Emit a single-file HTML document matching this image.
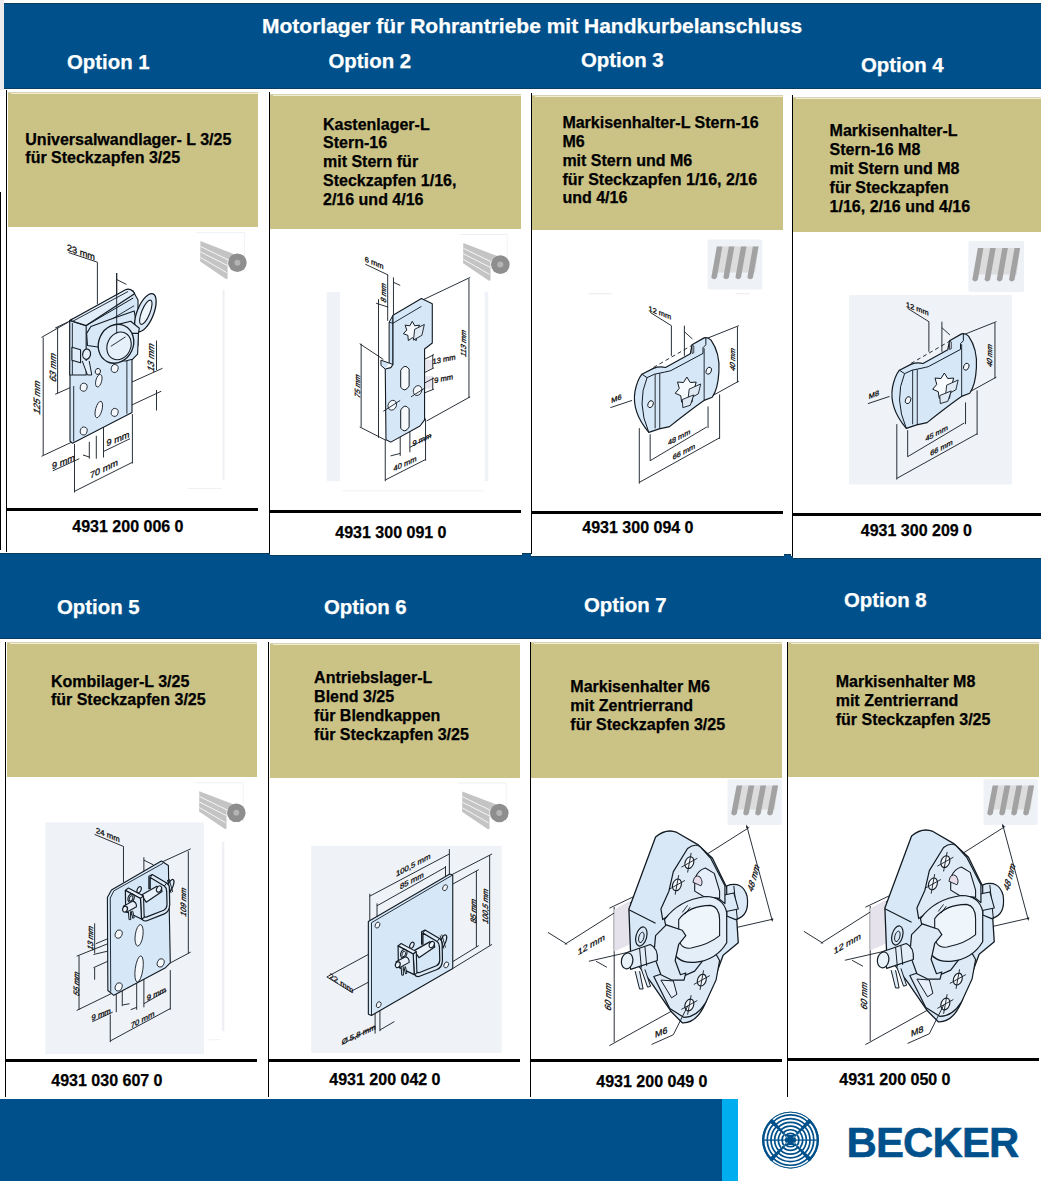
<!DOCTYPE html>
<html><head><meta charset="utf-8"><style>
html,body{margin:0;padding:0;}
body{width:1041px;height:1181px;position:relative;overflow:hidden;background:#fff;font-family:"Liberation Sans",sans-serif;}
body>div{position:absolute;}
.t{font-weight:bold;white-space:nowrap;-webkit-text-stroke:0.25px currentColor;}
</style></head><body>
<div style="left:0px;top:0px;width:4px;height:90px;background:#ebebed;"></div>
<div style="left:4px;top:3px;width:1037px;height:85.5px;background:#00518b;"></div>
<div style="left:4px;top:3px;width:1037px;height:1px;background:#0a3c5e;"></div>
<div style="left:4px;top:87.5px;width:1037px;height:1.0px;background:#0c3d60;"></div>
<div class="t" style="left:262.0px;top:13.72px;font-size:21px;line-height:24px;color:#fff;">Motorlager für Rohrantriebe mit Handkurbelanschluss</div>
<div class="t" style="left:67.0px;top:50.53px;font-size:20.4px;line-height:22px;color:#fff;">Option 1</div>
<div class="t" style="left:328.5px;top:49.83px;font-size:20.4px;line-height:22px;color:#fff;">Option 2</div>
<div class="t" style="left:581.0px;top:48.63px;font-size:20.4px;line-height:22px;color:#fff;">Option 3</div>
<div class="t" style="left:861.0px;top:53.63px;font-size:20.4px;line-height:22px;color:#fff;">Option 4</div>
<div style="left:7.6px;top:92px;width:250.4px;height:134.7px;background:#cbc286;"></div>
<div style="left:7.6px;top:92px;width:250.4px;height:1px;background:#d6d2b8;"></div>
<div style="left:10.6px;top:93px;width:247.4px;height:1px;background:#f3eed0;"></div>
<div style="left:270.4px;top:94px;width:250.60000000000002px;height:134.8px;background:#cbc286;"></div>
<div style="left:270.4px;top:94px;width:250.60000000000002px;height:1px;background:#d6d2b8;"></div>
<div style="left:273.4px;top:95px;width:247.60000000000002px;height:1px;background:#f3eed0;"></div>
<div style="left:532.3px;top:95px;width:250.70000000000005px;height:134.6px;background:#cbc286;"></div>
<div style="left:532.3px;top:95px;width:250.70000000000005px;height:1px;background:#d6d2b8;"></div>
<div style="left:535.3px;top:96px;width:247.70000000000005px;height:1px;background:#f3eed0;"></div>
<div style="left:793.2px;top:97px;width:247.79999999999995px;height:134.5px;background:#cbc286;"></div>
<div style="left:793.2px;top:97px;width:247.79999999999995px;height:1px;background:#d6d2b8;"></div>
<div style="left:796.2px;top:98px;width:244.79999999999995px;height:1px;background:#f3eed0;"></div>
<div style="left:0px;top:192px;width:1.3px;height:358px;background:#000;"></div>
<div style="left:6px;top:90px;width:1.2999999999999998px;height:462px;background:#000;"></div>
<div style="left:269px;top:92px;width:1.3000000000000114px;height:462px;background:#000;"></div>
<div style="left:531px;top:93px;width:1.2999999999999545px;height:460.5px;background:#000;"></div>
<div style="left:792px;top:95px;width:1.2999999999999545px;height:462px;background:#000;"></div>
<div style="left:7px;top:508px;width:251px;height:3px;background:#000;"></div>
<div style="left:270px;top:510px;width:251px;height:3px;background:#000;"></div>
<div style="left:532px;top:511px;width:251px;height:3px;background:#000;"></div>
<div style="left:793px;top:513px;width:248px;height:3px;background:#000;"></div>
<div class="t" style="left:25.3px;top:131.46px;font-size:16px;line-height:18px;color:#000;">Universalwandlager- L 3/25<br>für Steckzapfen 3/25</div>
<div class="t" style="left:323.0px;top:115.56px;font-size:16px;line-height:18.8px;color:#000;">Kastenlager-L<br>Stern-16<br>mit Stern für<br>Steckzapfen 1/16,<br>2/16 und 4/16</div>
<div class="t" style="left:562.4px;top:113.81px;font-size:16px;line-height:18.9px;color:#000;">Markisenhalter-L Stern-16<br>M6<br>mit Stern und M6<br>für Steckzapfen 1/16, 2/16<br>und 4/16</div>
<div class="t" style="left:829.6px;top:120.66px;font-size:16px;line-height:19px;color:#000;">Markisenhalter-L<br>Stern-16 M8<br>mit Stern und M8<br>für Steckzapfen<br>1/16, 2/16 und 4/16</div>
<div class="t" style="left:72.3px;top:518.16px;font-size:16px;line-height:18px;color:#000;">4931 200 006 0</div>
<div class="t" style="left:335.3px;top:523.86px;font-size:16px;line-height:18px;color:#000;">4931 300 091 0</div>
<div class="t" style="left:582.3px;top:519.26px;font-size:16px;line-height:18px;color:#000;">4931 300 094 0</div>
<div class="t" style="left:860.8px;top:522.16px;font-size:16px;line-height:18px;color:#000;">4931 300 209 0</div>
<div style="left:0px;top:553px;width:269.5px;height:85.5px;background:#00518b;"></div>
<div style="left:0px;top:553px;width:269.5px;height:1px;background:#0a3c5e;"></div>
<div style="left:269.5px;top:555.3px;width:261.5px;height:83.20000000000005px;background:#00518b;"></div>
<div style="left:269.5px;top:555.3px;width:261.5px;height:1.0px;background:#0a3c5e;"></div>
<div style="left:531px;top:556.2px;width:261.5px;height:82.29999999999995px;background:#00518b;"></div>
<div style="left:531px;top:556.2px;width:261.5px;height:1.0px;background:#0a3c5e;"></div>
<div style="left:792.5px;top:558px;width:248.5px;height:80.5px;background:#00518b;"></div>
<div style="left:792.5px;top:558px;width:248.5px;height:1px;background:#0a3c5e;"></div>
<div style="left:522px;top:553.2px;width:8.5px;height:85.29999999999995px;background:#00518b;"></div>
<div style="left:522px;top:553.2px;width:8.5px;height:1.0px;background:#0a3c5e;"></div>
<div style="left:784px;top:553.6px;width:7px;height:84.89999999999998px;background:#00518b;"></div>
<div style="left:784px;top:553.6px;width:7px;height:1.0px;background:#0a3c5e;"></div>
<div style="left:0px;top:637.6px;width:1041px;height:1.0px;background:#0c3d60;"></div>
<div class="t" style="left:57.0px;top:595.73px;font-size:20.4px;line-height:22px;color:#fff;">Option 5</div>
<div class="t" style="left:324.0px;top:595.73px;font-size:20.4px;line-height:22px;color:#fff;">Option 6</div>
<div class="t" style="left:584.0px;top:593.63px;font-size:20.4px;line-height:22px;color:#fff;">Option 7</div>
<div class="t" style="left:844.0px;top:588.63px;font-size:20.4px;line-height:22px;color:#fff;">Option 8</div>
<div style="left:6.5px;top:641.7px;width:250.5px;height:135.79999999999995px;background:#cbc286;"></div>
<div style="left:6.5px;top:641.7px;width:250.5px;height:1.0px;background:#d6d2b8;"></div>
<div style="left:9.5px;top:642.7px;width:247.5px;height:1.0px;background:#f3eed0;"></div>
<div style="left:269.5px;top:642.5px;width:250.5px;height:135.29999999999995px;background:#cbc286;"></div>
<div style="left:269.5px;top:642.5px;width:250.5px;height:1.0px;background:#d6d2b8;"></div>
<div style="left:272.5px;top:643.5px;width:247.5px;height:1.0px;background:#f3eed0;"></div>
<div style="left:531px;top:642px;width:251px;height:135.70000000000005px;background:#cbc286;"></div>
<div style="left:531px;top:642px;width:251px;height:1px;background:#d6d2b8;"></div>
<div style="left:534px;top:643px;width:248px;height:1px;background:#f3eed0;"></div>
<div style="left:788px;top:642px;width:250.5999999999999px;height:135px;background:#cbc286;"></div>
<div style="left:788px;top:642px;width:250.5999999999999px;height:1px;background:#d6d2b8;"></div>
<div style="left:791px;top:643px;width:247.5999999999999px;height:1px;background:#f3eed0;"></div>
<div style="left:5px;top:641.5px;width:1.2999999999999998px;height:455.5px;background:#000;"></div>
<div style="left:268px;top:642px;width:1.3000000000000114px;height:455px;background:#000;"></div>
<div style="left:530px;top:642px;width:1.2999999999999545px;height:455px;background:#000;"></div>
<div style="left:787px;top:642px;width:1.2999999999999545px;height:454.5px;background:#000;"></div>
<div style="left:6px;top:1059px;width:251px;height:3px;background:#000;"></div>
<div style="left:269px;top:1059px;width:251px;height:3px;background:#000;"></div>
<div style="left:531px;top:1059px;width:251px;height:3px;background:#000;"></div>
<div style="left:788px;top:1058px;width:251px;height:3px;background:#000;"></div>
<div class="t" style="left:50.9px;top:672.66px;font-size:16px;line-height:18px;color:#000;">Kombilager-L 3/25<br>für Steckzapfen 3/25</div>
<div class="t" style="left:314.1px;top:669.16px;font-size:16px;line-height:18.8px;color:#000;">Antriebslager-L<br>Blend 3/25<br>für Blendkappen<br>für Steckzapfen 3/25</div>
<div class="t" style="left:570.3px;top:678.36px;font-size:16px;line-height:18.6px;color:#000;">Markisenhalter M6<br>mit Zentrierrand<br>für Steckzapfen 3/25</div>
<div class="t" style="left:835.7px;top:672.93px;font-size:16px;line-height:18.85px;color:#000;">Markisenhalter M8<br>mit Zentrierrand<br>für Steckzapfen 3/25</div>
<div class="t" style="left:51.3px;top:1072.16px;font-size:16px;line-height:18px;color:#000;">4931 030 607 0</div>
<div class="t" style="left:329.3px;top:1071.16px;font-size:16px;line-height:18px;color:#000;">4931 200 042 0</div>
<div class="t" style="left:596.3px;top:1073.16px;font-size:16px;line-height:18px;color:#000;">4931 200 049 0</div>
<div class="t" style="left:839.3px;top:1071.16px;font-size:16px;line-height:18px;color:#000;">4931 200 050 0</div>
<div style="left:0px;top:1099px;width:722px;height:82px;background:#00518b;"></div>
<div style="left:722px;top:1099px;width:16px;height:82px;background:#00aeef;"></div>
<svg style="position:absolute;left:0;top:0" width="1041" height="1181" viewBox="0 0 1041 1181">
<defs><clipPath id="lc"><circle cx="790.5" cy="1140.1" r="28.4"/></clipPath>
<clipPath id="qTB"><polygon points="789.3,1140.1 750.5,1102.1 830.5,1102.1 791.7,1140.1 830.5,1178.1 750.5,1178.1"/></clipPath>
<clipPath id="qLR"><polygon points="789.0,1140.1 750.5,1103.1 750.5,1177.1"/><polygon points="792.0,1140.1 830.5,1103.1 830.5,1177.1"/></clipPath></defs>
<circle cx="790.5" cy="1140.1" r="28.4" fill="#00518b"/>
<g clip-path="url(#lc)"><g clip-path="url(#qTB)"><circle cx="790.5" cy="1140.1" r="4.80" fill="none" stroke="#fff" stroke-width="2.0"/><circle cx="790.5" cy="1140.1" r="8.50" fill="none" stroke="#fff" stroke-width="2.0"/><circle cx="790.5" cy="1140.1" r="12.20" fill="none" stroke="#fff" stroke-width="2.0"/><circle cx="790.5" cy="1140.1" r="15.90" fill="none" stroke="#fff" stroke-width="2.0"/><circle cx="790.5" cy="1140.1" r="19.60" fill="none" stroke="#fff" stroke-width="2.0"/><circle cx="790.5" cy="1140.1" r="23.30" fill="none" stroke="#fff" stroke-width="2.0"/><circle cx="790.5" cy="1140.1" r="27.00" fill="none" stroke="#fff" stroke-width="2.0"/></g><g clip-path="url(#qLR)"><circle cx="790.5" cy="1140.1" r="6.60" fill="none" stroke="#fff" stroke-width="2.0"/><circle cx="790.5" cy="1140.1" r="10.30" fill="none" stroke="#fff" stroke-width="2.0"/><circle cx="790.5" cy="1140.1" r="14.00" fill="none" stroke="#fff" stroke-width="2.0"/><circle cx="790.5" cy="1140.1" r="17.70" fill="none" stroke="#fff" stroke-width="2.0"/><circle cx="790.5" cy="1140.1" r="21.40" fill="none" stroke="#fff" stroke-width="2.0"/><circle cx="790.5" cy="1140.1" r="25.10" fill="none" stroke="#fff" stroke-width="2.0"/></g>
<line x1="760.5" y1="1140.1" x2="820.5" y2="1140.1" stroke="#00518b" stroke-width="1.1"/>
<polygon points="790.5,1140.1 820.9,1166.1 816.5,1170.5" fill="#00518b"/><polygon points="790.5,1140.1 764.5,1170.5 760.1,1166.1" fill="#00518b"/><polygon points="790.5,1140.1 760.1,1114.1 764.5,1109.7" fill="#00518b"/><polygon points="790.5,1140.1 816.5,1109.7 820.9,1114.1" fill="#00518b"/>
<polygon points="786.5,1135.1 794.5,1135.1 791.7,1140.1 794.5,1145.1 786.5,1145.1 789.3,1140.1" fill="#00518b"/>
</g><circle cx="790.5" cy="1140.1" r="27.9" fill="none" stroke="#00518b" stroke-width="1"/></svg>
<div class="t" style="left:846.5px;top:1121.25px;font-size:42px;line-height:44px;color:#00518b;letter-spacing:-0.9px;-webkit-text-stroke:0.5px #00518b;">BECKER</div>
<svg style="position:absolute;left:0;top:0" width="1041" height="1181" viewBox="0 0 1041 1181" font-family="Liberation Sans, sans-serif"><defs><marker id="arr" viewBox="0 0 10 10" refX="5" refY="5" markerWidth="4" markerHeight="4" orient="auto-start-reverse"><path d="M0,2 L10,5 L0,8 z" fill="#121a22"/></marker></defs><rect x="222.5" y="290.0" width="2.0" height="190.0" fill="#eef0f4" />
<rect x="188.0" y="488.0" width="34.0" height="1.0" fill="#f0f0f0" />
<rect x="196.4" y="232.2" width="48.0" height="1.0" fill="#eceff5" />
<rect x="243.9" y="232.7" width="0.8" height="40.0" fill="#eef0f5" />
<polygon points="200.4,241.1 234.4,254.2 227.6,259.7 227.6,278.7 226.0,278.9 200.2,261.4" fill="#c4c4c4" stroke="#121a22" stroke-width="0" stroke-linejoin="round" vector-effect="non-scaling-stroke" />
<line x1="200.5" y1="246.4" x2="227.9" y2="259.7" stroke="#f6f6f6" stroke-width="1.0" vector-effect="non-scaling-stroke" />
<line x1="200.5" y1="251.9" x2="227.6" y2="265.6" stroke="#f6f6f6" stroke-width="1.0" vector-effect="non-scaling-stroke" />
<line x1="200.5" y1="257.5" x2="226.6" y2="272.5" stroke="#f6f6f6" stroke-width="1.0" vector-effect="non-scaling-stroke" />
<ellipse cx="237.4" cy="262.7" rx="9.3" ry="9.3" transform="rotate(0 237.4 262.7)" fill="#8e8e8e" stroke="#121a22" stroke-width="0" vector-effect="non-scaling-stroke"/>
<ellipse cx="237.4" cy="262.7" rx="3.0" ry="3.0" transform="rotate(0 237.4 262.7)" fill="#b4b4b4" stroke="#121a22" stroke-width="0" vector-effect="non-scaling-stroke"/>
<line x1="68.5" y1="252.5" x2="97.4" y2="262.2" stroke="#121a22" stroke-width="0.9" vector-effect="non-scaling-stroke" />
<line x1="97.4" y1="262.2" x2="97.4" y2="304.4" stroke="#121a22" stroke-width="0.9" vector-effect="non-scaling-stroke" />
<line x1="116.7" y1="273.0" x2="116.7" y2="333.3" stroke="#121a22" stroke-width="0.9" vector-effect="non-scaling-stroke" />
<line x1="116.7" y1="279.5" x2="126.4" y2="284.4" stroke="#121a22" stroke-width="0.9" vector-effect="non-scaling-stroke" />
<text x="81.0" y="252.0" transform="translate(81.0 252.0) skewY(20) translate(-81.0 -252.0)" font-size="9.18" fill="#0d0d0d" stroke="#0d0d0d" stroke-width="0.3" vector-effect="non-scaling-stroke" text-anchor="middle" dominant-baseline="central" >23 mm</text>
<line x1="43.2" y1="337.4" x2="43.2" y2="455.0" stroke="#121a22" stroke-width="0.9" vector-effect="non-scaling-stroke" />
<line x1="41.5" y1="337.4" x2="68.5" y2="322.0" stroke="#121a22" stroke-width="0.9" vector-effect="non-scaling-stroke" />
<line x1="41.5" y1="456.3" x2="70.9" y2="442.5" stroke="#121a22" stroke-width="0.9" vector-effect="non-scaling-stroke" />
<text x="37.0" y="397.0" transform="translate(37.0 397.0) rotate(-90) skewX(-28) translate(-37.0 -397.0)" font-size="9.18" fill="#0d0d0d" stroke="#0d0d0d" stroke-width="0.3" vector-effect="non-scaling-stroke" text-anchor="middle" dominant-baseline="central" >125 mm</text>
<line x1="57.6" y1="327.3" x2="57.6" y2="393.6" stroke="#121a22" stroke-width="0.9" vector-effect="non-scaling-stroke" />
<line x1="55.2" y1="394.3" x2="86.6" y2="380.3" stroke="#121a22" stroke-width="0.9" vector-effect="non-scaling-stroke" />
<line x1="55.2" y1="328.0" x2="70.0" y2="321.0" stroke="#121a22" stroke-width="0.9" vector-effect="non-scaling-stroke" />
<text x="52.5" y="367.0" transform="translate(52.5 367.0) rotate(-90) skewX(-28) translate(-52.5 -367.0)" font-size="9.18" fill="#0d0d0d" stroke="#0d0d0d" stroke-width="0.3" vector-effect="non-scaling-stroke" text-anchor="middle" dominant-baseline="central" >63 mm</text>
<line x1="156.5" y1="340.5" x2="156.5" y2="370.0" stroke="#121a22" stroke-width="0.9" vector-effect="non-scaling-stroke" />
<line x1="103.5" y1="394.8" x2="162.5" y2="368.3" stroke="#121a22" stroke-width="0.9" vector-effect="non-scaling-stroke" />
<line x1="102.2" y1="418.9" x2="161.3" y2="391.2" stroke="#121a22" stroke-width="0.9" vector-effect="non-scaling-stroke" />
<line x1="156.5" y1="390.0" x2="156.5" y2="410.5" stroke="#121a22" stroke-width="0.9" vector-effect="non-scaling-stroke" />
<text x="150.5" y="357.0" transform="translate(150.5 357.0) rotate(-90) skewX(-28) translate(-150.5 -357.0)" font-size="9.18" fill="#0d0d0d" stroke="#0d0d0d" stroke-width="0.3" vector-effect="non-scaling-stroke" text-anchor="middle" dominant-baseline="central" >13 mm</text>
<line x1="103.5" y1="451.5" x2="130.0" y2="438.7" stroke="#121a22" stroke-width="0.9" vector-effect="non-scaling-stroke" />
<text x="118.0" y="438.5" transform="translate(118.0 438.5) skewY(-22) translate(-118.0 -438.5)" font-size="9.18" fill="#0d0d0d" stroke="#0d0d0d" stroke-width="0.3" vector-effect="non-scaling-stroke" text-anchor="middle" dominant-baseline="central" >9 mm</text>
<line x1="52.8" y1="470.8" x2="79.3" y2="458.7" stroke="#121a22" stroke-width="0.9" vector-effect="non-scaling-stroke" />
<text x="63.5" y="461.5" transform="translate(63.5 461.5) skewY(-22) translate(-63.5 -461.5)" font-size="9.18" fill="#0d0d0d" stroke="#0d0d0d" stroke-width="0.3" vector-effect="non-scaling-stroke" text-anchor="middle" dominant-baseline="central" >9 mm</text>
<line x1="74.5" y1="491.3" x2="132.4" y2="462.3" stroke="#121a22" stroke-width="0.9" vector-effect="non-scaling-stroke" />
<line x1="74.5" y1="444.0" x2="74.5" y2="492.5" stroke="#121a22" stroke-width="0.9" vector-effect="non-scaling-stroke" />
<line x1="132.4" y1="414.0" x2="132.4" y2="463.5" stroke="#121a22" stroke-width="0.9" vector-effect="non-scaling-stroke" />
<text x="104.0" y="468.5" transform="translate(104.0 468.5) skewY(-26) translate(-104.0 -468.5)" font-size="9.18" fill="#0d0d0d" stroke="#0d0d0d" stroke-width="0.3" vector-effect="non-scaling-stroke" text-anchor="middle" dominant-baseline="central" >70 mm</text>
<line x1="89.3" y1="441.8" x2="89.3" y2="458.7" stroke="#121a22" stroke-width="0.9" vector-effect="non-scaling-stroke" />
<line x1="96.3" y1="435.8" x2="96.3" y2="458.7" stroke="#121a22" stroke-width="0.9" vector-effect="non-scaling-stroke" />
<line x1="103.5" y1="419.0" x2="103.5" y2="457.5" stroke="#121a22" stroke-width="0.9" vector-effect="non-scaling-stroke" />
<line x1="83.0" y1="455.0" x2="89.3" y2="457.0" stroke="#121a22" stroke-width="0.9" vector-effect="non-scaling-stroke" />
<polygon points="70.0,321.0 127.6,289.5 133.0,291.0 138.0,300.0 138.0,345.0 132.0,360.6 132.0,412.4 72.5,443.3 70.0,441.0" fill="#d6e7f7" stroke="#121a22" stroke-width="1.1" stroke-linejoin="round" vector-effect="non-scaling-stroke" />
<line x1="73.7" y1="386.0" x2="73.7" y2="441.5" stroke="#121a22" stroke-width="0.9" vector-effect="non-scaling-stroke" />
<line x1="126.9" y1="360.6" x2="126.9" y2="413.8" stroke="#121a22" stroke-width="0.9" vector-effect="non-scaling-stroke" />
<ellipse cx="114.7" cy="368.5" rx="3.4" ry="4.0" transform="rotate(15 114.7 368.5)" fill="#f4f8fc" stroke="#121a22" stroke-width="0.9" vector-effect="non-scaling-stroke"/>
<ellipse cx="98.8" cy="380.7" rx="2.9" ry="6.5" transform="rotate(15 98.8 380.7)" fill="#f4f8fc" stroke="#121a22" stroke-width="0.9" vector-effect="non-scaling-stroke"/>
<ellipse cx="83.7" cy="387.2" rx="3.4" ry="4.0" transform="rotate(15 83.7 387.2)" fill="#f4f8fc" stroke="#121a22" stroke-width="0.9" vector-effect="non-scaling-stroke"/>
<ellipse cx="98.8" cy="409.5" rx="3.2" ry="8.5" transform="rotate(15 98.8 409.5)" fill="#f4f8fc" stroke="#121a22" stroke-width="0.9" vector-effect="non-scaling-stroke"/>
<ellipse cx="114.7" cy="412.4" rx="3.4" ry="4.0" transform="rotate(15 114.7 412.4)" fill="#f4f8fc" stroke="#121a22" stroke-width="0.9" vector-effect="non-scaling-stroke"/>
<ellipse cx="83.7" cy="431.0" rx="3.4" ry="4.0" transform="rotate(15 83.7 431.0)" fill="#f4f8fc" stroke="#121a22" stroke-width="0.9" vector-effect="non-scaling-stroke"/>
<g transform="translate(65.00,285.00) scale(0.08643)">
<path d="M55,410 L245,470 L245,1041 L55,1041 Z" fill="#d8e8f7" stroke="#121a22" stroke-width="1.1" stroke-linejoin="round" vector-effect="non-scaling-stroke" />
<path d="M55,410 Q60,395 90,395 L245,460" fill="none" stroke="#121a22" stroke-width="1" stroke-linejoin="round" vector-effect="non-scaling-stroke" />
<line x1="85.0" y1="440.0" x2="85.0" y2="1041.0" stroke="#121a22" stroke-width="0.9" vector-effect="non-scaling-stroke" />
<path d="M55,410 L700,55 Q745,35 790,75 L805,100 L245,470 Z" fill="#e2eefa" stroke="#121a22" stroke-width="1.2" stroke-linejoin="round" vector-effect="non-scaling-stroke" />
<line x1="80.0" y1="425.0" x2="730.0" y2="75.0" stroke="#121a22" stroke-width="0.9" vector-effect="non-scaling-stroke" />
<line x1="245.0" y1="470.0" x2="790.0" y2="150.0" stroke="#121a22" stroke-width="1" vector-effect="non-scaling-stroke" />
<line x1="300.0" y1="540.0" x2="800.0" y2="240.0" stroke="#121a22" stroke-width="0.9" vector-effect="non-scaling-stroke" />
<path d="M250,560 L300,480 L520,400 L800,300 L850,560 L840,800 L780,860 L700,880 L500,880 L420,800 L400,720 L260,700 Z" fill="#d8e8f7" stroke="#121a22" stroke-width="1.1" stroke-linejoin="round" vector-effect="non-scaling-stroke" />
<ellipse cx="930.0" cy="320.0" rx="95.0" ry="235.0" transform="rotate(22 930.0 320.0)" fill="#dbe9f7" stroke="#121a22" stroke-width="1.3" vector-effect="non-scaling-stroke"/>
<ellipse cx="935.0" cy="315.0" rx="48.0" ry="150.0" transform="rotate(22 935.0 315.0)" fill="#eef5fb" stroke="#121a22" stroke-width="1.1" vector-effect="non-scaling-stroke"/>
<polygon points="560.0,470.0 760.0,420.0 860.0,500.0 850.0,560.0 700.0,560.0 520.0,560.0" fill="#dde9f6" stroke="#121a22" stroke-width="1.1" stroke-linejoin="round" vector-effect="non-scaling-stroke" />
<ellipse cx="590.0" cy="680.0" rx="200.0" ry="230.0" transform="rotate(25 590.0 680.0)" fill="#dceaf7" stroke="#121a22" stroke-width="1.3" vector-effect="non-scaling-stroke"/>
<ellipse cx="625.0" cy="705.0" rx="135.0" ry="165.0" transform="rotate(25 625.0 705.0)" fill="#e6f0fa" stroke="#121a22" stroke-width="1.1" vector-effect="non-scaling-stroke"/>
<line x1="530.0" y1="710.0" x2="700.0" y2="600.0" stroke="#121a22" stroke-width="0.9" vector-effect="non-scaling-stroke" />
<polygon points="80.0,720.0 180.0,750.0 180.0,900.0 80.0,870.0" fill="#e2eefa" stroke="#121a22" stroke-width="1.1" stroke-linejoin="round" vector-effect="non-scaling-stroke" />
<ellipse cx="250.0" cy="800.0" rx="45.0" ry="60.0" transform="rotate(10 250.0 800.0)" fill="#e6f0fa" stroke="#121a22" stroke-width="1.2" vector-effect="non-scaling-stroke"/>
<path d="M200,880 L260,1041 L310,1041 L280,880" fill="#e2eefa" stroke="#121a22" stroke-width="1" stroke-linejoin="round" vector-effect="non-scaling-stroke" />
<ellipse cx="380.0" cy="1000.0" rx="30.0" ry="35.0" transform="rotate(20 380.0 1000.0)" fill="#f4f8fc" stroke="#121a22" stroke-width="1" vector-effect="non-scaling-stroke"/>
</g>
<line x1="116.7" y1="273.0" x2="116.7" y2="333.3" stroke="#121a22" stroke-width="0.9" vector-effect="non-scaling-stroke" />
<rect x="459.3" y="234.1" width="48.0" height="1.0" fill="#eceff5" />
<rect x="506.8" y="234.6" width="0.8" height="40.0" fill="#eef0f5" />
<polygon points="463.3,243.0 497.3,256.1 490.5,261.6 490.5,280.6 488.9,280.8 463.1,263.3" fill="#c4c4c4" stroke="#121a22" stroke-width="0" stroke-linejoin="round" vector-effect="non-scaling-stroke" />
<line x1="463.4" y1="248.3" x2="490.8" y2="261.6" stroke="#f6f6f6" stroke-width="1.0" vector-effect="non-scaling-stroke" />
<line x1="463.4" y1="253.8" x2="490.5" y2="267.5" stroke="#f6f6f6" stroke-width="1.0" vector-effect="non-scaling-stroke" />
<line x1="463.4" y1="259.4" x2="489.5" y2="274.4" stroke="#f6f6f6" stroke-width="1.0" vector-effect="non-scaling-stroke" />
<ellipse cx="500.3" cy="264.6" rx="9.3" ry="9.3" transform="rotate(0 500.3 264.6)" fill="#8e8e8e" stroke="#121a22" stroke-width="0" vector-effect="non-scaling-stroke"/>
<ellipse cx="500.3" cy="264.6" rx="3.0" ry="3.0" transform="rotate(0 500.3 264.6)" fill="#b4b4b4" stroke="#121a22" stroke-width="0" vector-effect="non-scaling-stroke"/>
<g transform="translate(270,228) scale(0.24114)">
<rect x="235.0" y="265.0" width="55.0" height="785.0" fill="#eff2f6" />
<rect x="890.0" y="265.0" width="15.0" height="785.0" fill="#eff2f6" />
<rect x="300.0" y="1088.0" width="590.0" height="4.0" fill="#f2f2f2" />
<line x1="395.0" y1="150.0" x2="490.0" y2="195.0" stroke="#121a22" stroke-width="0.9" vector-effect="non-scaling-stroke" />
<line x1="488.0" y1="195.0" x2="488.0" y2="385.0" stroke="#121a22" stroke-width="0.9" vector-effect="non-scaling-stroke" />
<line x1="512.0" y1="205.0" x2="512.0" y2="360.0" stroke="#121a22" stroke-width="0.9" vector-effect="non-scaling-stroke" />
<line x1="512.0" y1="225.0" x2="540.0" y2="238.0" stroke="#121a22" stroke-width="0.9" vector-effect="non-scaling-stroke" />
<text x="432.0" y="145.0" transform="translate(432.0 145.0) skewY(22) translate(-432.0 -145.0)" font-size="31.35" fill="#0d0d0d" stroke="#0d0d0d" stroke-width="0.3" vector-effect="non-scaling-stroke" text-anchor="middle" dominant-baseline="central" >6 mm</text>
<line x1="450.0" y1="295.0" x2="450.0" y2="870.0" stroke="#121a22" stroke-width="0.9" vector-effect="non-scaling-stroke" />
<line x1="440.0" y1="312.0" x2="490.0" y2="328.0" stroke="#121a22" stroke-width="0.9" vector-effect="non-scaling-stroke" />
<text x="470.0" y="268.0" transform="translate(470.0 268.0) rotate(-90) skewX(-28) translate(-470.0 -268.0)" font-size="31.35" fill="#0d0d0d" stroke="#0d0d0d" stroke-width="0.3" vector-effect="non-scaling-stroke" text-anchor="middle" dominant-baseline="central" >8 mm</text>
<line x1="378.0" y1="480.0" x2="378.0" y2="825.0" stroke="#121a22" stroke-width="0.9" vector-effect="non-scaling-stroke" />
<line x1="372.0" y1="480.0" x2="470.0" y2="545.0" stroke="#121a22" stroke-width="0.9" vector-effect="non-scaling-stroke" />
<line x1="372.0" y1="825.0" x2="480.0" y2="880.0" stroke="#121a22" stroke-width="0.9" vector-effect="non-scaling-stroke" />
<text x="362.0" y="655.0" transform="translate(362.0 655.0) rotate(-90) skewX(-28) translate(-362.0 -655.0)" font-size="31.35" fill="#0d0d0d" stroke="#0d0d0d" stroke-width="0.3" vector-effect="non-scaling-stroke" text-anchor="middle" dominant-baseline="central" >75 mm</text>
<line x1="825.0" y1="210.0" x2="825.0" y2="705.0" stroke="#121a22" stroke-width="0.9" vector-effect="non-scaling-stroke" />
<line x1="630.0" y1="300.0" x2="830.0" y2="205.0" stroke="#121a22" stroke-width="0.9" vector-effect="non-scaling-stroke" />
<line x1="650.0" y1="800.0" x2="830.0" y2="700.0" stroke="#121a22" stroke-width="0.9" vector-effect="non-scaling-stroke" />
<text x="805.0" y="478.0" transform="translate(805.0 478.0) rotate(-90) skewX(-28) translate(-805.0 -478.0)" font-size="31.35" fill="#0d0d0d" stroke="#0d0d0d" stroke-width="0.3" vector-effect="non-scaling-stroke" text-anchor="middle" dominant-baseline="central" >113 mm</text>
<polygon points="644.0,547.0 676.0,547.0 676.0,585.0 644.0,590.0" fill="#e9e5ec" stroke="#121a22" stroke-width="0" stroke-linejoin="round" vector-effect="non-scaling-stroke" />
<line x1="550.0" y1="590.0" x2="680.0" y2="525.0" stroke="#121a22" stroke-width="0.9" vector-effect="non-scaling-stroke" />
<line x1="550.0" y1="645.0" x2="680.0" y2="580.0" stroke="#121a22" stroke-width="0.9" vector-effect="non-scaling-stroke" />
<line x1="675.0" y1="525.0" x2="675.0" y2="580.0" stroke="#121a22" stroke-width="0.9" vector-effect="non-scaling-stroke" />
<text x="722.0" y="545.0" transform="translate(722.0 545.0) skewY(-12) translate(-722.0 -545.0)" font-size="31.35" fill="#0d0d0d" stroke="#0d0d0d" stroke-width="0.3" vector-effect="non-scaling-stroke" text-anchor="middle" dominant-baseline="central" >13 mm</text>
<polygon points="644.0,614.0 676.0,614.0 676.0,662.0 644.0,668.0" fill="#e9e5ec" stroke="#121a22" stroke-width="0" stroke-linejoin="round" vector-effect="non-scaling-stroke" />
<line x1="600.0" y1="665.0" x2="680.0" y2="622.0" stroke="#121a22" stroke-width="0.9" vector-effect="non-scaling-stroke" />
<line x1="600.0" y1="700.0" x2="680.0" y2="668.0" stroke="#121a22" stroke-width="0.9" vector-effect="non-scaling-stroke" />
<line x1="675.0" y1="620.0" x2="675.0" y2="670.0" stroke="#121a22" stroke-width="0.9" vector-effect="non-scaling-stroke" />
<text x="720.0" y="625.0" transform="translate(720.0 625.0) skewY(-12) translate(-720.0 -625.0)" font-size="31.35" fill="#0d0d0d" stroke="#0d0d0d" stroke-width="0.3" vector-effect="non-scaling-stroke" text-anchor="middle" dominant-baseline="central" >9 mm</text>
<line x1="580.0" y1="910.0" x2="670.0" y2="860.0" stroke="#121a22" stroke-width="0.9" vector-effect="non-scaling-stroke" />
<text x="630.0" y="878.0" transform="translate(630.0 878.0) skewY(-25) translate(-630.0 -878.0)" font-size="31.35" fill="#0d0d0d" stroke="#0d0d0d" stroke-width="0.3" vector-effect="non-scaling-stroke" text-anchor="middle" dominant-baseline="central" >9 mm</text>
<line x1="478.0" y1="1045.0" x2="645.0" y2="960.0" stroke="#121a22" stroke-width="0.9" vector-effect="non-scaling-stroke" />
<line x1="478.0" y1="880.0" x2="478.0" y2="1050.0" stroke="#121a22" stroke-width="0.9" vector-effect="non-scaling-stroke" />
<line x1="645.0" y1="790.0" x2="645.0" y2="965.0" stroke="#121a22" stroke-width="0.9" vector-effect="non-scaling-stroke" />
<line x1="540.0" y1="820.0" x2="540.0" y2="945.0" stroke="#121a22" stroke-width="0.9" vector-effect="non-scaling-stroke" />
<line x1="580.0" y1="840.0" x2="580.0" y2="930.0" stroke="#121a22" stroke-width="0.9" vector-effect="non-scaling-stroke" />
<line x1="500.0" y1="945.0" x2="540.0" y2="935.0" stroke="#121a22" stroke-width="0.9" vector-effect="non-scaling-stroke" />
<text x="560.0" y="978.0" transform="translate(560.0 978.0) skewY(-25) translate(-560.0 -978.0)" font-size="31.35" fill="#0d0d0d" stroke="#0d0d0d" stroke-width="0.3" vector-effect="non-scaling-stroke" text-anchor="middle" dominant-baseline="central" >40 mm</text>
<polygon points="494.0,391.0 510.0,362.0 510.0,566.0 494.0,560.0" fill="#c9def2" stroke="#121a22" stroke-width="1" stroke-linejoin="round" vector-effect="non-scaling-stroke" />
<polygon points="510.0,362.0 628.0,292.0 673.0,314.0 673.0,477.0 641.0,502.0 641.0,796.0 622.0,821.0 501.0,888.0 481.0,878.0 478.0,585.0 501.0,579.0 510.0,566.0" fill="#d6e7f7" stroke="#121a22" stroke-width="1.1" stroke-linejoin="round" vector-effect="non-scaling-stroke" />
<path d="M478,585 L460,570 L460,548 L494,560" fill="#cfe2f4" stroke="#121a22" stroke-width="1" stroke-linejoin="round" vector-effect="non-scaling-stroke" />
<line x1="494.0" y1="391.0" x2="510.0" y2="395.0" stroke="#121a22" stroke-width="0.9" vector-effect="non-scaling-stroke" />
<line x1="510.0" y1="395.0" x2="628.0" y2="325.0" stroke="#121a22" stroke-width="0.9" vector-effect="non-scaling-stroke" />
<polygon points="590.0,387.0 600.2,405.6 619.6,402.8 612.8,423.2 626.9,438.3 608.3,445.2 606.4,466.8 590.0,455.0 573.6,466.8 571.7,445.2 553.1,438.3 567.2,423.2 560.4,402.8 579.8,405.6" fill="#f6f9fc" stroke="#121a22" stroke-width="1" stroke-linejoin="round" vector-effect="non-scaling-stroke" />
<polygon points="600.0,420.0 640.0,400.0 630.0,445.0 595.0,465.0" fill="#dfe9f4" stroke="#121a22" stroke-width="0.9" stroke-linejoin="round" vector-effect="non-scaling-stroke" />
<path d="M542,590 Q559,560 577,585 L577,655 Q559,685 542,660 Z" fill="#f6f9fc" stroke="#121a22" stroke-width="1" stroke-linejoin="round" vector-effect="non-scaling-stroke" />
<ellipse cx="612.0" cy="674.0" rx="17.0" ry="21.0" transform="rotate(25 612.0 674.0)" fill="#f6f9fc" stroke="#121a22" stroke-width="0.9" vector-effect="non-scaling-stroke"/>
<ellipse cx="507.0" cy="735.0" rx="17.0" ry="21.0" transform="rotate(25 507.0 735.0)" fill="#f6f9fc" stroke="#121a22" stroke-width="0.9" vector-effect="non-scaling-stroke"/>
<path d="M542,755 Q559,725 577,750 L577,825 Q559,855 542,830 Z" fill="#f6f9fc" stroke="#121a22" stroke-width="1" stroke-linejoin="round" vector-effect="non-scaling-stroke" />
<line x1="470.0" y1="760.0" x2="540.0" y2="715.0" stroke="#121a22" stroke-width="0.9" vector-effect="non-scaling-stroke" />
<line x1="585.0" y1="700.0" x2="640.0" y2="665.0" stroke="#121a22" stroke-width="0.9" vector-effect="non-scaling-stroke" />
</g>
<rect x="707.5" y="239.6" width="54.8" height="49.9" fill="#eef1f6" rx="2"/>
<polygon points="717.9,246.6 758.5,246.6 755.2,272.5 713.0,272.5" fill="#dcdcdc" stroke="#121a22" stroke-width="0" stroke-linejoin="round" vector-effect="non-scaling-stroke" />
<path d="M716.8,246.6 L722.4,246.6 L716.9,277.5 Q714.1,281.0 711.3,277.5 Z" fill="#a2a2a2" stroke="#121a22" stroke-width="0" stroke-linejoin="round" vector-effect="non-scaling-stroke" />
<path d="M728.8,246.6 L734.4,246.6 L728.9,277.5 Q726.1,281.0 723.3,277.5 Z" fill="#a2a2a2" stroke="#121a22" stroke-width="0" stroke-linejoin="round" vector-effect="non-scaling-stroke" />
<path d="M740.9,246.6 L746.5,246.6 L741.0,277.5 Q738.2,281.0 735.4,277.5 Z" fill="#a2a2a2" stroke="#121a22" stroke-width="0" stroke-linejoin="round" vector-effect="non-scaling-stroke" />
<path d="M752.9,246.6 L758.5,246.6 L753.0,277.5 Q750.2,281.0 747.4,277.5 Z" fill="#a2a2a2" stroke="#121a22" stroke-width="0" stroke-linejoin="round" vector-effect="non-scaling-stroke" />
<g transform="translate(532,228) scale(0.24114)">
<rect x="235.0" y="270.0" width="95.0" height="5.0" fill="#eeeeee" />
<rect x="845.0" y="270.0" width="60.0" height="5.0" fill="#eeeeee" />
<line x1="490.0" y1="350.0" x2="578.0" y2="405.0" stroke="#121a22" stroke-width="0.9" vector-effect="non-scaling-stroke" />
<line x1="578.0" y1="405.0" x2="578.0" y2="530.0" stroke="#121a22" stroke-width="0.9" vector-effect="non-scaling-stroke" />
<line x1="632.0" y1="405.0" x2="632.0" y2="530.0" stroke="#121a22" stroke-width="0.9" vector-effect="non-scaling-stroke" />
<line x1="632.0" y1="430.0" x2="665.0" y2="460.0" stroke="#121a22" stroke-width="0.9" vector-effect="non-scaling-stroke" />
<text x="530.0" y="352.0" transform="translate(530.0 352.0) skewY(22) translate(-530.0 -352.0)" font-size="30.46" fill="#0d0d0d" stroke="#0d0d0d" stroke-width="0.3" vector-effect="non-scaling-stroke" text-anchor="middle" dominant-baseline="central" >12 mm</text>
<line x1="852.0" y1="410.0" x2="852.0" y2="640.0" stroke="#121a22" stroke-width="0.9" vector-effect="non-scaling-stroke" />
<line x1="720.0" y1="460.0" x2="858.0" y2="405.0" stroke="#121a22" stroke-width="0.9" vector-effect="non-scaling-stroke" />
<line x1="740.0" y1="700.0" x2="858.0" y2="635.0" stroke="#121a22" stroke-width="0.9" vector-effect="non-scaling-stroke" />
<text x="832.0" y="545.0" transform="translate(832.0 545.0) rotate(-90) skewX(-28) translate(-832.0 -545.0)" font-size="30.46" fill="#0d0d0d" stroke="#0d0d0d" stroke-width="0.3" vector-effect="non-scaling-stroke" text-anchor="middle" dominant-baseline="central" >40 mm</text>
<text x="350.0" y="708.0" transform="translate(350.0 708.0) skewY(-22) translate(-350.0 -708.0)" font-size="30.46" fill="#0d0d0d" stroke="#0d0d0d" stroke-width="0.3" vector-effect="non-scaling-stroke" text-anchor="middle" dominant-baseline="central" >M6</text>
<line x1="325.0" y1="745.0" x2="415.0" y2="715.0" stroke="#121a22" stroke-width="0.9" vector-effect="non-scaling-stroke" />
<line x1="490.0" y1="965.0" x2="725.0" y2="825.0" stroke="#121a22" stroke-width="0.9" vector-effect="non-scaling-stroke" />
<line x1="490.0" y1="855.0" x2="490.0" y2="965.0" stroke="#121a22" stroke-width="0.9" vector-effect="non-scaling-stroke" />
<line x1="730.0" y1="740.0" x2="730.0" y2="830.0" stroke="#121a22" stroke-width="0.9" vector-effect="non-scaling-stroke" />
<text x="610.0" y="868.0" transform="translate(610.0 868.0) skewY(-28) translate(-610.0 -868.0)" font-size="30.46" fill="#0d0d0d" stroke="#0d0d0d" stroke-width="0.3" vector-effect="non-scaling-stroke" text-anchor="middle" dominant-baseline="central" >48 mm</text>
<line x1="445.0" y1="1055.0" x2="778.0" y2="870.0" stroke="#121a22" stroke-width="0.9" vector-effect="non-scaling-stroke" />
<line x1="445.0" y1="830.0" x2="445.0" y2="1060.0" stroke="#121a22" stroke-width="0.9" vector-effect="non-scaling-stroke" />
<line x1="778.0" y1="690.0" x2="778.0" y2="875.0" stroke="#121a22" stroke-width="0.9" vector-effect="non-scaling-stroke" />
<text x="630.0" y="928.0" transform="translate(630.0 928.0) skewY(-28) translate(-630.0 -928.0)" font-size="30.46" fill="#0d0d0d" stroke="#0d0d0d" stroke-width="0.3" vector-effect="non-scaling-stroke" text-anchor="middle" dominant-baseline="central" >66 mm</text>
<g transform="translate(364.90,381.50) scale(0.47804)">
<path d="M190,470 L290,420 Q340,400 395,412 L610,292 L625,215 L730,155 Q760,145 790,175 Q870,290 858,450 Q850,600 800,670 L735,695 Q640,760 430,925 L340,945 L250,975 Q100,800 130,620 Q150,520 190,470 Z" fill="#d6e7f7" stroke="#121a22" stroke-width="1.2" stroke-linejoin="round" vector-effect="non-scaling-stroke" />
<path d="M190,470 L235,500 L300,470 Q400,450 440,440 L720,290 L720,240 L745,215 L745,150" fill="none" stroke="#121a22" stroke-width="1" stroke-linejoin="round" vector-effect="non-scaling-stroke" />
<path d="M235,500 Q140,720 250,975" fill="none" stroke="#121a22" stroke-width="1" stroke-linejoin="round" vector-effect="non-scaling-stroke" />
<line x1="305.0" y1="470.0" x2="305.0" y2="940.0" stroke="#121a22" stroke-width="0.9" vector-effect="non-scaling-stroke" />
<line x1="345.0" y1="462.0" x2="345.0" y2="945.0" stroke="#121a22" stroke-width="0.9" vector-effect="non-scaling-stroke" />
<line x1="730.0" y1="245.0" x2="730.0" y2="700.0" stroke="#121a22" stroke-width="0.9" vector-effect="non-scaling-stroke" />
<path d="M625,215 L640,225 L640,285 L625,290 Z" fill="#e8e6ee" stroke="#121a22" stroke-width="0.8" stroke-linejoin="round" vector-effect="non-scaling-stroke" />
<line x1="290.0" y1="412.0" x2="620.0" y2="222.0" stroke="#121a22" stroke-width="0.9" vector-effect="non-scaling-stroke" stroke-dasharray="4 3"/>
<ellipse cx="265.0" cy="730.0" rx="22.0" ry="32.0" transform="rotate(25 265.0 730.0)" fill="#f4f8fc" stroke="#121a22" stroke-width="1" vector-effect="non-scaling-stroke"/>
<ellipse cx="770.0" cy="440.0" rx="22.0" ry="32.0" transform="rotate(25 770.0 440.0)" fill="#f4f8fc" stroke="#121a22" stroke-width="1" vector-effect="non-scaling-stroke"/>
<polygon points="580.0,495.0 609.3,542.4 660.9,538.3 645.8,593.3 680.9,635.6 632.8,656.8 624.9,713.6 580.0,685.0 535.1,713.6 527.2,656.8 479.1,635.6 514.2,593.3 499.1,538.3 550.7,542.4" fill="#f8fbfd" stroke="#121a22" stroke-width="1" stroke-linejoin="round" vector-effect="non-scaling-stroke" />
<polygon points="600.0,600.0 700.0,555.0 680.0,640.0 590.0,690.0" fill="#dfe9f4" stroke="#121a22" stroke-width="0.9" stroke-linejoin="round" vector-effect="non-scaling-stroke" />
<polygon points="540.0,690.0 640.0,650.0 610.0,740.0 545.0,760.0" fill="#dfe9f4" stroke="#121a22" stroke-width="0.9" stroke-linejoin="round" vector-effect="non-scaling-stroke" />
</g>
</g>
<rect x="849.1" y="295.0" width="163.0" height="189.5" fill="#eff2f6" />
<rect x="968.4" y="241.0" width="55.6" height="50.9" fill="#eef1f6" rx="2"/>
<polygon points="979.0,248.1 1020.1,248.1 1016.8,274.6 974.0,274.6" fill="#dcdcdc" stroke="#121a22" stroke-width="0" stroke-linejoin="round" vector-effect="non-scaling-stroke" />
<path d="M977.8,248.1 L983.4,248.1 L977.9,279.7 Q975.1,283.2 972.3,279.7 Z" fill="#a2a2a2" stroke="#121a22" stroke-width="0" stroke-linejoin="round" vector-effect="non-scaling-stroke" />
<path d="M990.1,248.1 L995.7,248.1 L990.1,279.7 Q987.3,283.2 984.5,279.7 Z" fill="#a2a2a2" stroke="#121a22" stroke-width="0" stroke-linejoin="round" vector-effect="non-scaling-stroke" />
<path d="M1002.3,248.1 L1007.9,248.1 L1002.3,279.7 Q999.5,283.2 996.7,279.7 Z" fill="#a2a2a2" stroke="#121a22" stroke-width="0" stroke-linejoin="round" vector-effect="non-scaling-stroke" />
<path d="M1014.5,248.1 L1020.1,248.1 L1014.6,279.7 Q1011.8,283.2 1009.0,279.7 Z" fill="#a2a2a2" stroke="#121a22" stroke-width="0" stroke-linejoin="round" vector-effect="non-scaling-stroke" />
<g transform="translate(789.5,224) scale(0.24114)">
<line x1="490.0" y1="350.0" x2="578.0" y2="405.0" stroke="#121a22" stroke-width="0.9" vector-effect="non-scaling-stroke" />
<line x1="578.0" y1="405.0" x2="578.0" y2="530.0" stroke="#121a22" stroke-width="0.9" vector-effect="non-scaling-stroke" />
<line x1="632.0" y1="405.0" x2="632.0" y2="530.0" stroke="#121a22" stroke-width="0.9" vector-effect="non-scaling-stroke" />
<line x1="632.0" y1="430.0" x2="665.0" y2="460.0" stroke="#121a22" stroke-width="0.9" vector-effect="non-scaling-stroke" />
<text x="530.0" y="352.0" transform="translate(530.0 352.0) skewY(22) translate(-530.0 -352.0)" font-size="30.46" fill="#0d0d0d" stroke="#0d0d0d" stroke-width="0.3" vector-effect="non-scaling-stroke" text-anchor="middle" dominant-baseline="central" >12 mm</text>
<line x1="852.0" y1="410.0" x2="852.0" y2="640.0" stroke="#121a22" stroke-width="0.9" vector-effect="non-scaling-stroke" />
<line x1="720.0" y1="460.0" x2="858.0" y2="405.0" stroke="#121a22" stroke-width="0.9" vector-effect="non-scaling-stroke" />
<line x1="740.0" y1="700.0" x2="858.0" y2="635.0" stroke="#121a22" stroke-width="0.9" vector-effect="non-scaling-stroke" />
<text x="832.0" y="545.0" transform="translate(832.0 545.0) rotate(-90) skewX(-28) translate(-832.0 -545.0)" font-size="30.46" fill="#0d0d0d" stroke="#0d0d0d" stroke-width="0.3" vector-effect="non-scaling-stroke" text-anchor="middle" dominant-baseline="central" >40 mm</text>
<text x="350.0" y="708.0" transform="translate(350.0 708.0) skewY(-22) translate(-350.0 -708.0)" font-size="30.46" fill="#0d0d0d" stroke="#0d0d0d" stroke-width="0.3" vector-effect="non-scaling-stroke" text-anchor="middle" dominant-baseline="central" >M8</text>
<line x1="325.0" y1="745.0" x2="415.0" y2="715.0" stroke="#121a22" stroke-width="0.9" vector-effect="non-scaling-stroke" />
<line x1="490.0" y1="965.0" x2="725.0" y2="825.0" stroke="#121a22" stroke-width="0.9" vector-effect="non-scaling-stroke" />
<line x1="490.0" y1="855.0" x2="490.0" y2="965.0" stroke="#121a22" stroke-width="0.9" vector-effect="non-scaling-stroke" />
<line x1="730.0" y1="740.0" x2="730.0" y2="830.0" stroke="#121a22" stroke-width="0.9" vector-effect="non-scaling-stroke" />
<text x="610.0" y="868.0" transform="translate(610.0 868.0) skewY(-28) translate(-610.0 -868.0)" font-size="30.46" fill="#0d0d0d" stroke="#0d0d0d" stroke-width="0.3" vector-effect="non-scaling-stroke" text-anchor="middle" dominant-baseline="central" >45 mm</text>
<line x1="445.0" y1="1055.0" x2="778.0" y2="870.0" stroke="#121a22" stroke-width="0.9" vector-effect="non-scaling-stroke" />
<line x1="445.0" y1="830.0" x2="445.0" y2="1060.0" stroke="#121a22" stroke-width="0.9" vector-effect="non-scaling-stroke" />
<line x1="778.0" y1="690.0" x2="778.0" y2="875.0" stroke="#121a22" stroke-width="0.9" vector-effect="non-scaling-stroke" />
<text x="630.0" y="928.0" transform="translate(630.0 928.0) skewY(-28) translate(-630.0 -928.0)" font-size="30.46" fill="#0d0d0d" stroke="#0d0d0d" stroke-width="0.3" vector-effect="non-scaling-stroke" text-anchor="middle" dominant-baseline="central" >66 mm</text>
<g transform="translate(364.90,381.50) scale(0.47804)">
<path d="M190,470 L290,420 Q340,400 395,412 L610,292 L625,215 L730,155 Q760,145 790,175 Q870,290 858,450 Q850,600 800,670 L735,695 Q640,760 430,925 L340,945 L250,975 Q100,800 130,620 Q150,520 190,470 Z" fill="#d6e7f7" stroke="#121a22" stroke-width="1.2" stroke-linejoin="round" vector-effect="non-scaling-stroke" />
<path d="M190,470 L235,500 L300,470 Q400,450 440,440 L720,290 L720,240 L745,215 L745,150" fill="none" stroke="#121a22" stroke-width="1" stroke-linejoin="round" vector-effect="non-scaling-stroke" />
<path d="M235,500 Q140,720 250,975" fill="none" stroke="#121a22" stroke-width="1" stroke-linejoin="round" vector-effect="non-scaling-stroke" />
<line x1="305.0" y1="470.0" x2="305.0" y2="940.0" stroke="#121a22" stroke-width="0.9" vector-effect="non-scaling-stroke" />
<line x1="345.0" y1="462.0" x2="345.0" y2="945.0" stroke="#121a22" stroke-width="0.9" vector-effect="non-scaling-stroke" />
<line x1="730.0" y1="245.0" x2="730.0" y2="700.0" stroke="#121a22" stroke-width="0.9" vector-effect="non-scaling-stroke" />
<path d="M625,215 L640,225 L640,285 L625,290 Z" fill="#e8e6ee" stroke="#121a22" stroke-width="0.8" stroke-linejoin="round" vector-effect="non-scaling-stroke" />
<line x1="290.0" y1="412.0" x2="620.0" y2="222.0" stroke="#121a22" stroke-width="0.9" vector-effect="non-scaling-stroke" stroke-dasharray="4 3"/>
<ellipse cx="265.0" cy="730.0" rx="22.0" ry="32.0" transform="rotate(25 265.0 730.0)" fill="#f4f8fc" stroke="#121a22" stroke-width="1" vector-effect="non-scaling-stroke"/>
<ellipse cx="770.0" cy="440.0" rx="22.0" ry="32.0" transform="rotate(25 770.0 440.0)" fill="#f4f8fc" stroke="#121a22" stroke-width="1" vector-effect="non-scaling-stroke"/>
<polygon points="580.0,495.0 609.3,542.4 660.9,538.3 645.8,593.3 680.9,635.6 632.8,656.8 624.9,713.6 580.0,685.0 535.1,713.6 527.2,656.8 479.1,635.6 514.2,593.3 499.1,538.3 550.7,542.4" fill="#f8fbfd" stroke="#121a22" stroke-width="1" stroke-linejoin="round" vector-effect="non-scaling-stroke" />
<polygon points="600.0,600.0 700.0,555.0 680.0,640.0 590.0,690.0" fill="#dfe9f4" stroke="#121a22" stroke-width="0.9" stroke-linejoin="round" vector-effect="non-scaling-stroke" />
<polygon points="540.0,690.0 640.0,650.0 610.0,740.0 545.0,760.0" fill="#dfe9f4" stroke="#121a22" stroke-width="0.9" stroke-linejoin="round" vector-effect="non-scaling-stroke" />
</g>
</g>
<g transform="translate(7,778) scale(0.24015)">
<rect x="160.0" y="185.0" width="660.0" height="965.0" fill="#eff2f6" />
<rect x="895.0" y="265.0" width="10.0" height="790.0" fill="#eef0f4" />
<rect x="840.0" y="1088.0" width="50.0" height="4.0" fill="#f0f0f0" />
<line x1="365.0" y1="235.0" x2="485.0" y2="285.0" stroke="#121a22" stroke-width="0.9" vector-effect="non-scaling-stroke" />
<line x1="485.0" y1="285.0" x2="485.0" y2="435.0" stroke="#121a22" stroke-width="0.9" vector-effect="non-scaling-stroke" />
<text x="420.0" y="238.0" transform="translate(420.0 238.0) skewY(22) translate(-420.0 -238.0)" font-size="32.38" fill="#0d0d0d" stroke="#0d0d0d" stroke-width="0.3" vector-effect="non-scaling-stroke" text-anchor="middle" dominant-baseline="central" >24 mm</text>
<line x1="570.0" y1="330.0" x2="570.0" y2="520.0" stroke="#121a22" stroke-width="0.9" vector-effect="non-scaling-stroke" />
<line x1="570.0" y1="342.0" x2="610.0" y2="362.0" stroke="#121a22" stroke-width="0.9" vector-effect="non-scaling-stroke" />
<line x1="755.0" y1="305.0" x2="755.0" y2="730.0" stroke="#121a22" stroke-width="0.9" vector-effect="non-scaling-stroke" />
<line x1="645.0" y1="350.0" x2="765.0" y2="295.0" stroke="#121a22" stroke-width="0.9" vector-effect="non-scaling-stroke" />
<line x1="680.0" y1="770.0" x2="765.0" y2="725.0" stroke="#121a22" stroke-width="0.9" vector-effect="non-scaling-stroke" />
<text x="735.0" y="515.0" transform="translate(735.0 515.0) rotate(-90) skewX(-28) translate(-735.0 -515.0)" font-size="32.38" fill="#0d0d0d" stroke="#0d0d0d" stroke-width="0.3" vector-effect="non-scaling-stroke" text-anchor="middle" dominant-baseline="central" >109 mm</text>
<line x1="365.0" y1="605.0" x2="365.0" y2="730.0" stroke="#121a22" stroke-width="0.9" vector-effect="non-scaling-stroke" />
<line x1="370.0" y1="690.0" x2="465.0" y2="650.0" stroke="#121a22" stroke-width="0.9" vector-effect="non-scaling-stroke" />
<line x1="360.0" y1="735.0" x2="550.0" y2="690.0" stroke="#121a22" stroke-width="0.9" vector-effect="non-scaling-stroke" />
<text x="345.0" y="665.0" transform="translate(345.0 665.0) rotate(-90) skewX(-28) translate(-345.0 -665.0)" font-size="32.38" fill="#0d0d0d" stroke="#0d0d0d" stroke-width="0.3" vector-effect="non-scaling-stroke" text-anchor="middle" dominant-baseline="central" >13 mm</text>
<line x1="300.0" y1="740.0" x2="300.0" y2="965.0" stroke="#121a22" stroke-width="0.9" vector-effect="non-scaling-stroke" />
<line x1="290.0" y1="742.0" x2="420.0" y2="690.0" stroke="#121a22" stroke-width="0.9" vector-effect="non-scaling-stroke" />
<line x1="290.0" y1="968.0" x2="440.0" y2="895.0" stroke="#121a22" stroke-width="0.9" vector-effect="non-scaling-stroke" />
<line x1="360.0" y1="790.0" x2="560.0" y2="700.0" stroke="#121a22" stroke-width="0.9" vector-effect="non-scaling-stroke" />
<line x1="365.0" y1="790.0" x2="365.0" y2="840.0" stroke="#121a22" stroke-width="0.9" vector-effect="non-scaling-stroke" />
<text x="287.0" y="855.0" transform="translate(287.0 855.0) rotate(-90) skewX(-28) translate(-287.0 -855.0)" font-size="32.38" fill="#0d0d0d" stroke="#0d0d0d" stroke-width="0.3" vector-effect="non-scaling-stroke" text-anchor="middle" dominant-baseline="central" >55 mm</text>
<line x1="355.0" y1="1015.0" x2="440.0" y2="975.0" stroke="#121a22" stroke-width="0.9" vector-effect="non-scaling-stroke" />
<text x="392.0" y="985.0" transform="translate(392.0 985.0) skewY(-22) translate(-392.0 -985.0)" font-size="32.38" fill="#0d0d0d" stroke="#0d0d0d" stroke-width="0.3" vector-effect="non-scaling-stroke" text-anchor="middle" dominant-baseline="central" >9 mm</text>
<line x1="570.0" y1="940.0" x2="665.0" y2="885.0" stroke="#121a22" stroke-width="0.9" vector-effect="non-scaling-stroke" />
<text x="622.0" y="900.0" transform="translate(622.0 900.0) skewY(-25) translate(-622.0 -900.0)" font-size="32.38" fill="#0d0d0d" stroke="#0d0d0d" stroke-width="0.3" vector-effect="non-scaling-stroke" text-anchor="middle" dominant-baseline="central" >9 mm</text>
<line x1="430.0" y1="1095.0" x2="680.0" y2="960.0" stroke="#121a22" stroke-width="0.9" vector-effect="non-scaling-stroke" />
<line x1="430.0" y1="985.0" x2="430.0" y2="1100.0" stroke="#121a22" stroke-width="0.9" vector-effect="non-scaling-stroke" />
<line x1="680.0" y1="800.0" x2="680.0" y2="965.0" stroke="#121a22" stroke-width="0.9" vector-effect="non-scaling-stroke" />
<text x="565.0" y="1005.0" transform="translate(565.0 1005.0) skewY(-28) translate(-565.0 -1005.0)" font-size="32.38" fill="#0d0d0d" stroke="#0d0d0d" stroke-width="0.3" vector-effect="non-scaling-stroke" text-anchor="middle" dominant-baseline="central" >70 mm</text>
<line x1="455.0" y1="900.0" x2="455.0" y2="975.0" stroke="#121a22" stroke-width="0.9" vector-effect="non-scaling-stroke" />
<line x1="480.0" y1="880.0" x2="480.0" y2="950.0" stroke="#121a22" stroke-width="0.9" vector-effect="non-scaling-stroke" />
<line x1="540.0" y1="800.0" x2="540.0" y2="965.0" stroke="#121a22" stroke-width="0.9" vector-effect="non-scaling-stroke" />
<line x1="570.0" y1="800.0" x2="570.0" y2="955.0" stroke="#121a22" stroke-width="0.9" vector-effect="non-scaling-stroke" />
<line x1="482.0" y1="945.0" x2="510.0" y2="940.0" stroke="#121a22" stroke-width="0.9" vector-effect="non-scaling-stroke" />
<line x1="515.0" y1="965.0" x2="540.0" y2="955.0" stroke="#121a22" stroke-width="0.9" vector-effect="non-scaling-stroke" />
<polygon points="418.0,498.0 435.0,466.0 643.0,346.0 672.0,364.0 680.0,770.0 660.0,790.0 445.0,905.0 420.0,885.0" fill="#d6e7f7" stroke="#121a22" stroke-width="1.1" stroke-linejoin="round" vector-effect="non-scaling-stroke" />
<line x1="430.0" y1="500.0" x2="432.0" y2="890.0" stroke="#121a22" stroke-width="0.9" vector-effect="non-scaling-stroke" />
<line x1="430.0" y1="500.0" x2="445.0" y2="470.0" stroke="#121a22" stroke-width="0.9" vector-effect="non-scaling-stroke" />
<line x1="445.0" y1="470.0" x2="650.0" y2="355.0" stroke="#121a22" stroke-width="0.9" vector-effect="non-scaling-stroke" />
<g transform="translate(459.30,360.20) scale(0.27980)">
<ellipse cx="790.0" cy="320.0" rx="38.0" ry="105.0" transform="rotate(22 790.0 320.0)" fill="#dce9f6" stroke="#121a22" stroke-width="1.1" vector-effect="non-scaling-stroke"/>
<line x1="745.0" y1="230.0" x2="800.0" y2="425.0" stroke="#121a22" stroke-width="0.9" vector-effect="non-scaling-stroke" />
<line x1="770.0" y1="215.0" x2="825.0" y2="410.0" stroke="#121a22" stroke-width="0.9" vector-effect="non-scaling-stroke" />
<path d="M470,175 L520,150 L735,275 Q775,300 775,360 L780,600 Q775,705 700,735 L430,840 Q375,845 368,800 L400,770 Q405,790 440,780 L690,680 Q735,660 740,600 L735,400 Q735,345 700,320 L490,195 L490,360 L470,360 Z" fill="#dce9f6" stroke="#121a22" stroke-width="1.2" stroke-linejoin="round" vector-effect="non-scaling-stroke" />
<line x1="520.0" y1="150.0" x2="490.0" y2="195.0" stroke="#121a22" stroke-width="1" vector-effect="non-scaling-stroke" />
<line x1="735.0" y1="275.0" x2="700.0" y2="320.0" stroke="#121a22" stroke-width="1" vector-effect="non-scaling-stroke" />
<path d="M360,455 L590,325 Q660,330 665,400 L430,560 Z" fill="#e8f1fa" stroke="#121a22" stroke-width="1.2" stroke-linejoin="round" vector-effect="non-scaling-stroke" />
<ellipse cx="620.0" cy="365.0" rx="35.0" ry="50.0" transform="rotate(30 620.0 365.0)" fill="#e8f1fa" stroke="#121a22" stroke-width="1.1" vector-effect="non-scaling-stroke"/>
<path d="M120,385 L165,350 L390,470 L345,505 Z" fill="#e6effa" stroke="#121a22" stroke-width="1.1" stroke-linejoin="round" vector-effect="non-scaling-stroke" />
<path d="M345,505 L390,470 L400,790 L360,812 Z" fill="#dce9f6" stroke="#121a22" stroke-width="1.1" stroke-linejoin="round" vector-effect="non-scaling-stroke" />
<path d="M120,385 L345,505 L360,812 L125,700 Z" fill="#dce9f6" stroke="#121a22" stroke-width="1.2" stroke-linejoin="round" vector-effect="non-scaling-stroke" />
<ellipse cx="325.0" cy="375.0" rx="28.0" ry="48.0" transform="rotate(25 325.0 375.0)" fill="#e6effa" stroke="#121a22" stroke-width="1.1" vector-effect="non-scaling-stroke"/>
<ellipse cx="205.0" cy="500.0" rx="45.0" ry="65.0" transform="rotate(20 205.0 500.0)" fill="none" stroke="#121a22" stroke-width="1.1" vector-effect="non-scaling-stroke"/>
<ellipse cx="205.0" cy="505.0" rx="25.0" ry="42.0" transform="rotate(20 205.0 505.0)" fill="none" stroke="#121a22" stroke-width="1" vector-effect="non-scaling-stroke"/>
<path d="M90,620 L230,545 Q290,560 285,630 L140,710 Z" fill="#e6effa" stroke="#121a22" stroke-width="1.1" stroke-linejoin="round" vector-effect="non-scaling-stroke" />
<ellipse cx="115.0" cy="665.0" rx="35.0" ry="45.0" transform="rotate(20 115.0 665.0)" fill="#eef5fb" stroke="#121a22" stroke-width="1.2" vector-effect="non-scaling-stroke"/>
<path d="M165,700 L175,820 L200,820 L195,700" fill="#dce9f6" stroke="#121a22" stroke-width="1" stroke-linejoin="round" vector-effect="non-scaling-stroke" />
<path d="M205,690 L230,800 L252,792 L228,690" fill="#dce9f6" stroke="#121a22" stroke-width="1" stroke-linejoin="round" vector-effect="non-scaling-stroke" />
</g>
<ellipse cx="465.0" cy="650.0" rx="14.0" ry="18.0" transform="rotate(20 465.0 650.0)" fill="#f6f9fc" stroke="#121a22" stroke-width="0.9" vector-effect="non-scaling-stroke"/>
<ellipse cx="550.0" cy="655.0" rx="16.0" ry="45.0" transform="rotate(8 550.0 655.0)" fill="#f6f9fc" stroke="#121a22" stroke-width="0.9" vector-effect="non-scaling-stroke"/>
<ellipse cx="550.0" cy="795.0" rx="16.0" ry="55.0" transform="rotate(8 550.0 795.0)" fill="#f6f9fc" stroke="#121a22" stroke-width="0.9" vector-effect="non-scaling-stroke"/>
<ellipse cx="640.0" cy="770.0" rx="14.0" ry="18.0" transform="rotate(20 640.0 770.0)" fill="#f6f9fc" stroke="#121a22" stroke-width="0.9" vector-effect="non-scaling-stroke"/>
<ellipse cx="465.0" cy="870.0" rx="14.0" ry="18.0" transform="rotate(20 465.0 870.0)" fill="#f6f9fc" stroke="#121a22" stroke-width="0.9" vector-effect="non-scaling-stroke"/>
</g>
<rect x="195.3" y="782.3" width="48.0" height="1.0" fill="#eceff5" />
<rect x="242.8" y="782.8" width="0.8" height="40.0" fill="#eef0f5" />
<polygon points="199.3,791.2 233.3,804.3 226.5,809.8 226.5,828.8 224.9,829.0 199.1,811.5" fill="#c4c4c4" stroke="#121a22" stroke-width="0" stroke-linejoin="round" vector-effect="non-scaling-stroke" />
<line x1="199.4" y1="796.5" x2="226.8" y2="809.8" stroke="#f6f6f6" stroke-width="1.0" vector-effect="non-scaling-stroke" />
<line x1="199.4" y1="802.0" x2="226.5" y2="815.7" stroke="#f6f6f6" stroke-width="1.0" vector-effect="non-scaling-stroke" />
<line x1="199.4" y1="807.6" x2="225.5" y2="822.6" stroke="#f6f6f6" stroke-width="1.0" vector-effect="non-scaling-stroke" />
<ellipse cx="236.3" cy="812.8" rx="9.3" ry="9.3" transform="rotate(0 236.3 812.8)" fill="#8e8e8e" stroke="#121a22" stroke-width="0" vector-effect="non-scaling-stroke"/>
<ellipse cx="236.3" cy="812.8" rx="3.0" ry="3.0" transform="rotate(0 236.3 812.8)" fill="#b4b4b4" stroke="#121a22" stroke-width="0" vector-effect="non-scaling-stroke"/>
<g transform="translate(269,778) scale(0.24114)">
<rect x="175.0" y="282.0" width="790.0" height="858.0" fill="#eff2f6" />
<line x1="240.0" y1="825.0" x2="415.0" y2="730.0" stroke="#121a22" stroke-width="0.9" vector-effect="non-scaling-stroke" />
<line x1="340.0" y1="885.0" x2="520.0" y2="790.0" stroke="#121a22" stroke-width="0.9" vector-effect="non-scaling-stroke" />
<line x1="240.0" y1="825.0" x2="345.0" y2="890.0" stroke="#121a22" stroke-width="0.9" vector-effect="non-scaling-stroke" />
<text x="300.0" y="850.0" transform="translate(300.0 850.0) skewY(33) translate(-300.0 -850.0)" font-size="32.25" fill="#0d0d0d" stroke="#0d0d0d" stroke-width="0.3" vector-effect="non-scaling-stroke" text-anchor="middle" dominant-baseline="central" >22 mm</text>
<line x1="418.0" y1="490.0" x2="748.0" y2="315.0" stroke="#121a22" stroke-width="0.9" vector-effect="non-scaling-stroke" />
<line x1="418.0" y1="480.0" x2="418.0" y2="590.0" stroke="#121a22" stroke-width="0.9" vector-effect="non-scaling-stroke" />
<line x1="748.0" y1="295.0" x2="748.0" y2="400.0" stroke="#121a22" stroke-width="0.9" vector-effect="non-scaling-stroke" />
<text x="598.0" y="360.0" transform="translate(598.0 360.0) skewY(-28) translate(-598.0 -360.0)" font-size="32.25" fill="#0d0d0d" stroke="#0d0d0d" stroke-width="0.3" vector-effect="non-scaling-stroke" text-anchor="middle" dominant-baseline="central" >100,5 mm</text>
<line x1="448.0" y1="530.0" x2="732.0" y2="370.0" stroke="#121a22" stroke-width="0.9" vector-effect="non-scaling-stroke" />
<line x1="448.0" y1="520.0" x2="448.0" y2="610.0" stroke="#121a22" stroke-width="0.9" vector-effect="non-scaling-stroke" />
<line x1="732.0" y1="365.0" x2="732.0" y2="455.0" stroke="#121a22" stroke-width="0.9" vector-effect="non-scaling-stroke" />
<text x="592.0" y="425.0" transform="translate(592.0 425.0) skewY(-28) translate(-592.0 -425.0)" font-size="32.25" fill="#0d0d0d" stroke="#0d0d0d" stroke-width="0.3" vector-effect="non-scaling-stroke" text-anchor="middle" dominant-baseline="central" >85 mm</text>
<line x1="860.0" y1="385.0" x2="860.0" y2="700.0" stroke="#121a22" stroke-width="0.9" vector-effect="non-scaling-stroke" />
<line x1="735.0" y1="455.0" x2="870.0" y2="380.0" stroke="#121a22" stroke-width="0.9" vector-effect="non-scaling-stroke" />
<line x1="740.0" y1="775.0" x2="870.0" y2="695.0" stroke="#121a22" stroke-width="0.9" vector-effect="non-scaling-stroke" />
<text x="845.0" y="550.0" transform="translate(845.0 550.0) rotate(-90) skewX(-28) translate(-845.0 -550.0)" font-size="32.25" fill="#0d0d0d" stroke="#0d0d0d" stroke-width="0.3" vector-effect="non-scaling-stroke" text-anchor="middle" dominant-baseline="central" >85 mm</text>
<line x1="915.0" y1="320.0" x2="915.0" y2="695.0" stroke="#121a22" stroke-width="0.9" vector-effect="non-scaling-stroke" />
<line x1="760.0" y1="400.0" x2="925.0" y2="315.0" stroke="#121a22" stroke-width="0.9" vector-effect="non-scaling-stroke" />
<line x1="762.0" y1="790.0" x2="925.0" y2="690.0" stroke="#121a22" stroke-width="0.9" vector-effect="non-scaling-stroke" />
<text x="897.0" y="530.0" transform="translate(897.0 530.0) rotate(-90) skewX(-28) translate(-897.0 -530.0)" font-size="32.25" fill="#0d0d0d" stroke="#0d0d0d" stroke-width="0.3" vector-effect="non-scaling-stroke" text-anchor="middle" dominant-baseline="central" >100,5 mm</text>
<line x1="320.0" y1="1095.0" x2="440.0" y2="1030.0" stroke="#121a22" stroke-width="0.9" vector-effect="non-scaling-stroke" />
<line x1="440.0" y1="940.0" x2="440.0" y2="1060.0" stroke="#121a22" stroke-width="0.9" vector-effect="non-scaling-stroke" />
<line x1="460.0" y1="940.0" x2="460.0" y2="1050.0" stroke="#121a22" stroke-width="0.9" vector-effect="non-scaling-stroke" />
<line x1="460.0" y1="1045.0" x2="520.0" y2="1010.0" stroke="#121a22" stroke-width="0.9" vector-effect="non-scaling-stroke" />
<text x="372.0" y="1065.0" transform="translate(372.0 1065.0) skewY(-25) translate(-372.0 -1065.0)" font-size="32.25" fill="#0d0d0d" stroke="#0d0d0d" stroke-width="0.3" vector-effect="non-scaling-stroke" text-anchor="middle" dominant-baseline="central" >Ø 5,8 mm</text>
<polygon points="412.0,595.0 750.0,398.0 762.0,402.0 762.0,790.0 425.0,985.0 412.0,980.0" fill="#d6e7f7" stroke="#121a22" stroke-width="1.1" stroke-linejoin="round" vector-effect="non-scaling-stroke" />
<line x1="425.0" y1="600.0" x2="425.0" y2="985.0" stroke="#121a22" stroke-width="0.9" vector-effect="non-scaling-stroke" />
<line x1="425.0" y1="600.0" x2="762.0" y2="402.0" stroke="#121a22" stroke-width="0.9" vector-effect="non-scaling-stroke" />
<ellipse cx="450.0" cy="610.0" rx="9.0" ry="13.0" transform="rotate(25 450.0 610.0)" fill="#f4f8fc" stroke="#121a22" stroke-width="0.9" vector-effect="non-scaling-stroke"/>
<ellipse cx="730.0" cy="455.0" rx="9.0" ry="13.0" transform="rotate(25 730.0 455.0)" fill="#f4f8fc" stroke="#121a22" stroke-width="0.9" vector-effect="non-scaling-stroke"/>
<ellipse cx="735.0" cy="775.0" rx="9.0" ry="13.0" transform="rotate(25 735.0 775.0)" fill="#f4f8fc" stroke="#121a22" stroke-width="0.9" vector-effect="non-scaling-stroke"/>
<ellipse cx="455.0" cy="940.0" rx="9.0" ry="13.0" transform="rotate(25 455.0 940.0)" fill="#f4f8fc" stroke="#121a22" stroke-width="0.9" vector-effect="non-scaling-stroke"/>
<g transform="translate(501.80,588.90) scale(0.27890)">
<ellipse cx="790.0" cy="320.0" rx="38.0" ry="105.0" transform="rotate(22 790.0 320.0)" fill="#dce9f6" stroke="#121a22" stroke-width="1.1" vector-effect="non-scaling-stroke"/>
<line x1="745.0" y1="230.0" x2="800.0" y2="425.0" stroke="#121a22" stroke-width="0.9" vector-effect="non-scaling-stroke" />
<line x1="770.0" y1="215.0" x2="825.0" y2="410.0" stroke="#121a22" stroke-width="0.9" vector-effect="non-scaling-stroke" />
<path d="M470,175 L520,150 L735,275 Q775,300 775,360 L780,600 Q775,705 700,735 L430,840 Q375,845 368,800 L400,770 Q405,790 440,780 L690,680 Q735,660 740,600 L735,400 Q735,345 700,320 L490,195 L490,360 L470,360 Z" fill="#dce9f6" stroke="#121a22" stroke-width="1.2" stroke-linejoin="round" vector-effect="non-scaling-stroke" />
<line x1="520.0" y1="150.0" x2="490.0" y2="195.0" stroke="#121a22" stroke-width="1" vector-effect="non-scaling-stroke" />
<line x1="735.0" y1="275.0" x2="700.0" y2="320.0" stroke="#121a22" stroke-width="1" vector-effect="non-scaling-stroke" />
<path d="M360,455 L590,325 Q660,330 665,400 L430,560 Z" fill="#e8f1fa" stroke="#121a22" stroke-width="1.2" stroke-linejoin="round" vector-effect="non-scaling-stroke" />
<ellipse cx="620.0" cy="365.0" rx="35.0" ry="50.0" transform="rotate(30 620.0 365.0)" fill="#e8f1fa" stroke="#121a22" stroke-width="1.1" vector-effect="non-scaling-stroke"/>
<path d="M120,385 L165,350 L390,470 L345,505 Z" fill="#e6effa" stroke="#121a22" stroke-width="1.1" stroke-linejoin="round" vector-effect="non-scaling-stroke" />
<path d="M345,505 L390,470 L400,790 L360,812 Z" fill="#dce9f6" stroke="#121a22" stroke-width="1.1" stroke-linejoin="round" vector-effect="non-scaling-stroke" />
<path d="M120,385 L345,505 L360,812 L125,700 Z" fill="#dce9f6" stroke="#121a22" stroke-width="1.2" stroke-linejoin="round" vector-effect="non-scaling-stroke" />
<ellipse cx="325.0" cy="375.0" rx="28.0" ry="48.0" transform="rotate(25 325.0 375.0)" fill="#e6effa" stroke="#121a22" stroke-width="1.1" vector-effect="non-scaling-stroke"/>
<ellipse cx="205.0" cy="500.0" rx="45.0" ry="65.0" transform="rotate(20 205.0 500.0)" fill="none" stroke="#121a22" stroke-width="1.1" vector-effect="non-scaling-stroke"/>
<ellipse cx="205.0" cy="505.0" rx="25.0" ry="42.0" transform="rotate(20 205.0 505.0)" fill="none" stroke="#121a22" stroke-width="1" vector-effect="non-scaling-stroke"/>
<path d="M90,620 L230,545 Q290,560 285,630 L140,710 Z" fill="#e6effa" stroke="#121a22" stroke-width="1.1" stroke-linejoin="round" vector-effect="non-scaling-stroke" />
<ellipse cx="115.0" cy="665.0" rx="35.0" ry="45.0" transform="rotate(20 115.0 665.0)" fill="#eef5fb" stroke="#121a22" stroke-width="1.2" vector-effect="non-scaling-stroke"/>
<path d="M165,700 L175,820 L200,820 L195,700" fill="#dce9f6" stroke="#121a22" stroke-width="1" stroke-linejoin="round" vector-effect="non-scaling-stroke" />
<path d="M205,690 L230,800 L252,792 L228,690" fill="#dce9f6" stroke="#121a22" stroke-width="1" stroke-linejoin="round" vector-effect="non-scaling-stroke" />
</g>
</g>
<rect x="458.3" y="782.5" width="48.0" height="1.0" fill="#eceff5" />
<rect x="505.8" y="783.0" width="0.8" height="40.0" fill="#eef0f5" />
<polygon points="462.3,791.4 496.3,804.5 489.5,810.0 489.5,829.0 487.9,829.2 462.1,811.7" fill="#c4c4c4" stroke="#121a22" stroke-width="0" stroke-linejoin="round" vector-effect="non-scaling-stroke" />
<line x1="462.4" y1="796.7" x2="489.8" y2="810.0" stroke="#f6f6f6" stroke-width="1.0" vector-effect="non-scaling-stroke" />
<line x1="462.4" y1="802.2" x2="489.5" y2="815.9" stroke="#f6f6f6" stroke-width="1.0" vector-effect="non-scaling-stroke" />
<line x1="462.4" y1="807.8" x2="488.5" y2="822.8" stroke="#f6f6f6" stroke-width="1.0" vector-effect="non-scaling-stroke" />
<ellipse cx="499.3" cy="813.0" rx="9.3" ry="9.3" transform="rotate(0 499.3 813.0)" fill="#8e8e8e" stroke="#121a22" stroke-width="0" vector-effect="non-scaling-stroke"/>
<ellipse cx="499.3" cy="813.0" rx="3.0" ry="3.0" transform="rotate(0 499.3 813.0)" fill="#b4b4b4" stroke="#121a22" stroke-width="0" vector-effect="non-scaling-stroke"/>
<rect x="727.5" y="779.2" width="54.3" height="45.8" fill="#eef1f6" rx="2"/>
<polygon points="737.8,785.6 778.0,785.6 774.7,809.4 732.9,809.4" fill="#dcdcdc" stroke="#121a22" stroke-width="0" stroke-linejoin="round" vector-effect="non-scaling-stroke" />
<path d="M736.6,785.6 L742.2,785.6 L736.8,813.8 Q734.0,817.3 731.2,813.8 Z" fill="#a2a2a2" stroke="#121a22" stroke-width="0" stroke-linejoin="round" vector-effect="non-scaling-stroke" />
<path d="M748.6,785.6 L754.2,785.6 L748.8,813.8 Q746.0,817.3 743.2,813.8 Z" fill="#a2a2a2" stroke="#121a22" stroke-width="0" stroke-linejoin="round" vector-effect="non-scaling-stroke" />
<path d="M760.5,785.6 L766.1,785.6 L760.7,813.8 Q757.9,817.3 755.1,813.8 Z" fill="#a2a2a2" stroke="#121a22" stroke-width="0" stroke-linejoin="round" vector-effect="non-scaling-stroke" />
<path d="M772.5,785.6 L778.1,785.6 L772.7,813.8 Q769.9,817.3 767.1,813.8 Z" fill="#a2a2a2" stroke="#121a22" stroke-width="0" stroke-linejoin="round" vector-effect="non-scaling-stroke" />
<g transform="translate(531,778) scale(0.24114)">
<line x1="895.0" y1="200.0" x2="1000.0" y2="590.0" stroke="#121a22" stroke-width="0.9" vector-effect="non-scaling-stroke" marker-start="url(#arr)" marker-end="url(#arr)"/>
<text x="922.0" y="412.0" transform="translate(922.0 412.0) rotate(-75) skewX(-28) translate(-922.0 -412.0)" font-size="36.73" fill="#0d0d0d" stroke="#0d0d0d" stroke-width="0.3" vector-effect="non-scaling-stroke" text-anchor="middle" dominant-baseline="central" >48 mm</text>
<line x1="345.0" y1="535.0" x2="345.0" y2="1095.0" stroke="#121a22" stroke-width="0.9" vector-effect="non-scaling-stroke" />
<line x1="325.0" y1="540.0" x2="430.0" y2="490.0" stroke="#121a22" stroke-width="0.9" vector-effect="non-scaling-stroke" />
<line x1="325.0" y1="1110.0" x2="640.0" y2="935.0" stroke="#121a22" stroke-width="0.9" vector-effect="non-scaling-stroke" />
<text x="318.0" y="905.0" transform="translate(318.0 905.0) rotate(-90) skewX(-28) translate(-318.0 -905.0)" font-size="36.73" fill="#0d0d0d" stroke="#0d0d0d" stroke-width="0.3" vector-effect="non-scaling-stroke" text-anchor="middle" dominant-baseline="central" >60 mm</text>
<line x1="70.0" y1="640.0" x2="150.0" y2="690.0" stroke="#121a22" stroke-width="0.9" vector-effect="non-scaling-stroke" />
<line x1="140.0" y1="690.0" x2="905.0" y2="205.0" stroke="#121a22" stroke-width="0.9" vector-effect="non-scaling-stroke" />
<line x1="240.0" y1="760.0" x2="1005.0" y2="585.0" stroke="#121a22" stroke-width="0.9" vector-effect="non-scaling-stroke" />
<polygon points="345.0,545.0 410.0,510.0 410.0,690.0 345.0,720.0" fill="#e6e2ec" stroke="#121a22" stroke-width="0" stroke-linejoin="round" vector-effect="non-scaling-stroke" />
<text x="250.0" y="690.0" transform="translate(250.0 690.0) skewY(-30) translate(-250.0 -690.0)" font-size="36.73" fill="#0d0d0d" stroke="#0d0d0d" stroke-width="0.3" vector-effect="non-scaling-stroke" text-anchor="middle" dominant-baseline="central" >12 mm</text>
<line x1="270.0" y1="760.0" x2="315.0" y2="785.0" stroke="#121a22" stroke-width="0.9" vector-effect="non-scaling-stroke" />
<g transform="translate(369.10,174.20) scale(0.73750)">
<path d="M200,95 Q260,45 320,70 L440,140 L520,215 L600,380 L650,460 L665,690 L580,760 L480,1030 Q430,1145 350,1140 L290,1080 L180,920 L60,760 L50,500 Z" fill="#d9e8f6" stroke="#121a22" stroke-width="1.3" stroke-linejoin="round" vector-effect="non-scaling-stroke" />
<line x1="50.0" y1="505.0" x2="200.0" y2="580.0" stroke="#121a22" stroke-width="1.1" vector-effect="non-scaling-stroke" />
<path d="M600,370 Q690,340 715,430 Q730,540 650,560 L600,540 Z" fill="#dce9f6" stroke="#121a22" stroke-width="1.2" stroke-linejoin="round" vector-effect="non-scaling-stroke" />
<line x1="640.0" y1="370.0" x2="660.0" y2="560.0" stroke="#121a22" stroke-width="1" vector-effect="non-scaling-stroke" />
<polygon points="545.0,430.0 640.0,410.0 665.0,500.0 570.0,520.0" fill="#dce9f6" stroke="#121a22" stroke-width="1.1" stroke-linejoin="round" vector-effect="non-scaling-stroke" />
<path d="M240,560 L230,500 L275,400 L300,290 L380,160 Q420,130 450,150 L510,215 L590,370 L590,470 L545,432 L480,440 L380,480 L300,520 Z" fill="#deebf7" stroke="#121a22" stroke-width="1.2" stroke-linejoin="round" vector-effect="non-scaling-stroke" />
<path d="M420,330 Q440,280 480,270 L530,300 L560,400 L560,440 L470,430 L420,400 Z" fill="#e6effa" stroke="#121a22" stroke-width="1.1" stroke-linejoin="round" vector-effect="non-scaling-stroke" />
<path d="M410,350 Q420,300 450,320 Q470,350 455,370 Z" fill="#e8dde8" stroke="#121a22" stroke-width="0.9" stroke-linejoin="round" vector-effect="non-scaling-stroke" />
<path d="M190,880 L250,860 L330,890 L420,850 L520,720 L560,790 L540,900 L480,1030 Q430,1110 360,1110 L280,1060 Z" fill="#deebf7" stroke="#121a22" stroke-width="1.2" stroke-linejoin="round" vector-effect="non-scaling-stroke" />
<path d="M230,900 L300,905 L320,980 L290,1000 Z" fill="#e6effa" stroke="#121a22" stroke-width="1" stroke-linejoin="round" vector-effect="non-scaling-stroke" />
<path d="M250,560 Q330,450 480,430 Q580,430 600,520 L600,690 Q540,790 420,800 Q310,810 280,700 Z" fill="#e4eef9" stroke="#121a22" stroke-width="1.2" stroke-linejoin="round" vector-effect="non-scaling-stroke" />
<path d="M330,560 Q390,480 510,480 Q560,490 560,560 L560,650 Q500,700 400,720 Q320,730 330,620 Z" fill="#eef5fb" stroke="#121a22" stroke-width="1.1" stroke-linejoin="round" vector-effect="non-scaling-stroke" />
<line x1="350.0" y1="520.0" x2="380.0" y2="480.0" stroke="#121a22" stroke-width="0.9" vector-effect="non-scaling-stroke" />
<line x1="365.0" y1="530.0" x2="395.0" y2="490.0" stroke="#121a22" stroke-width="0.9" vector-effect="non-scaling-stroke" />
<path d="M200,650 L260,590 L350,620 L370,650 L330,700 L310,790 L340,870 L370,860 L360,900 L290,900 L230,870 L190,760 Z" fill="#deebf7" stroke="#121a22" stroke-width="1.2" stroke-linejoin="round" vector-effect="non-scaling-stroke" />
<path d="M40,745 L170,700 Q215,720 210,790 L60,840 Z" fill="#e2edf8" stroke="#121a22" stroke-width="1.2" stroke-linejoin="round" vector-effect="non-scaling-stroke" />
<ellipse cx="40.0" cy="792.0" rx="32.0" ry="45.0" transform="rotate(10 40.0 792.0)" fill="#e9f1f9" stroke="#121a22" stroke-width="1.2" vector-effect="non-scaling-stroke"/>
<line x1="110.0" y1="720.0" x2="120.0" y2="830.0" stroke="#121a22" stroke-width="1" vector-effect="non-scaling-stroke" />
<line x1="140.0" y1="712.0" x2="150.0" y2="820.0" stroke="#121a22" stroke-width="1" vector-effect="non-scaling-stroke" />
<ellipse cx="120.0" cy="655.0" rx="30.0" ry="55.0" transform="rotate(15 120.0 655.0)" fill="none" stroke="#121a22" stroke-width="1.2" vector-effect="non-scaling-stroke"/>
<ellipse cx="120.0" cy="660.0" rx="14.0" ry="30.0" transform="rotate(15 120.0 660.0)" fill="none" stroke="#121a22" stroke-width="1" vector-effect="non-scaling-stroke"/>
<path d="M85,850 L110,950 L130,950 L110,850" fill="#e2edf8" stroke="#121a22" stroke-width="1" stroke-linejoin="round" vector-effect="non-scaling-stroke" />
<path d="M120,840 L155,940 L172,935 L140,840" fill="#e2edf8" stroke="#121a22" stroke-width="1" stroke-linejoin="round" vector-effect="non-scaling-stroke" />
<ellipse cx="390.0" cy="240.0" rx="24.0" ry="34.0" transform="rotate(20 390.0 240.0)" fill="#f4f8fc" stroke="#121a22" stroke-width="1.1" vector-effect="non-scaling-stroke"/>
<line x1="345.0" y1="265.0" x2="435.0" y2="215.0" stroke="#121a22" stroke-width="0.9" vector-effect="non-scaling-stroke" />
<line x1="380.0" y1="295.0" x2="400.0" y2="185.0" stroke="#121a22" stroke-width="0.9" vector-effect="non-scaling-stroke" />
<ellipse cx="320.0" cy="365.0" rx="24.0" ry="34.0" transform="rotate(20 320.0 365.0)" fill="#f4f8fc" stroke="#121a22" stroke-width="1.1" vector-effect="non-scaling-stroke"/>
<line x1="275.0" y1="390.0" x2="365.0" y2="340.0" stroke="#121a22" stroke-width="0.9" vector-effect="non-scaling-stroke" />
<line x1="310.0" y1="420.0" x2="330.0" y2="310.0" stroke="#121a22" stroke-width="0.9" vector-effect="non-scaling-stroke" />
<ellipse cx="460.0" cy="900.0" rx="24.0" ry="34.0" transform="rotate(20 460.0 900.0)" fill="#f4f8fc" stroke="#121a22" stroke-width="1.1" vector-effect="non-scaling-stroke"/>
<line x1="415.0" y1="925.0" x2="505.0" y2="875.0" stroke="#121a22" stroke-width="0.9" vector-effect="non-scaling-stroke" />
<line x1="450.0" y1="955.0" x2="470.0" y2="845.0" stroke="#121a22" stroke-width="0.9" vector-effect="non-scaling-stroke" />
<ellipse cx="390.0" cy="1040.0" rx="24.0" ry="34.0" transform="rotate(20 390.0 1040.0)" fill="#f4f8fc" stroke="#121a22" stroke-width="1.1" vector-effect="non-scaling-stroke"/>
<line x1="345.0" y1="1065.0" x2="435.0" y2="1015.0" stroke="#121a22" stroke-width="0.9" vector-effect="non-scaling-stroke" />
<line x1="380.0" y1="1095.0" x2="400.0" y2="985.0" stroke="#121a22" stroke-width="0.9" vector-effect="non-scaling-stroke" />
</g>
<line x1="500.0" y1="1105.0" x2="590.0" y2="1065.0" stroke="#121a22" stroke-width="0.9" vector-effect="non-scaling-stroke" />
<line x1="590.0" y1="1065.0" x2="650.0" y2="945.0" stroke="#121a22" stroke-width="0.9" vector-effect="non-scaling-stroke" />
<text x="540.0" y="1055.0" transform="translate(540.0 1055.0) skewY(-22) translate(-540.0 -1055.0)" font-size="36.73" fill="#0d0d0d" stroke="#0d0d0d" stroke-width="0.3" vector-effect="non-scaling-stroke" text-anchor="middle" dominant-baseline="central" >M6</text>
</g>
<rect x="983.5" y="779.2" width="54.3" height="45.8" fill="#eef1f6" rx="2"/>
<polygon points="993.8,785.6 1034.0,785.6 1030.7,809.4 988.9,809.4" fill="#dcdcdc" stroke="#121a22" stroke-width="0" stroke-linejoin="round" vector-effect="non-scaling-stroke" />
<path d="M992.6,785.6 L998.2,785.6 L992.8,813.8 Q990.0,817.3 987.2,813.8 Z" fill="#a2a2a2" stroke="#121a22" stroke-width="0" stroke-linejoin="round" vector-effect="non-scaling-stroke" />
<path d="M1004.6,785.6 L1010.2,785.6 L1004.8,813.8 Q1002.0,817.3 999.2,813.8 Z" fill="#a2a2a2" stroke="#121a22" stroke-width="0" stroke-linejoin="round" vector-effect="non-scaling-stroke" />
<path d="M1016.5,785.6 L1022.1,785.6 L1016.7,813.8 Q1013.9,817.3 1011.1,813.8 Z" fill="#a2a2a2" stroke="#121a22" stroke-width="0" stroke-linejoin="round" vector-effect="non-scaling-stroke" />
<path d="M1028.5,785.6 L1034.1,785.6 L1028.7,813.8 Q1025.9,817.3 1023.1,813.8 Z" fill="#a2a2a2" stroke="#121a22" stroke-width="0" stroke-linejoin="round" vector-effect="non-scaling-stroke" />
<g transform="translate(787,777) scale(0.24114)">
<line x1="895.0" y1="200.0" x2="1000.0" y2="590.0" stroke="#121a22" stroke-width="0.9" vector-effect="non-scaling-stroke" marker-start="url(#arr)" marker-end="url(#arr)"/>
<text x="922.0" y="412.0" transform="translate(922.0 412.0) rotate(-75) skewX(-28) translate(-922.0 -412.0)" font-size="36.73" fill="#0d0d0d" stroke="#0d0d0d" stroke-width="0.3" vector-effect="non-scaling-stroke" text-anchor="middle" dominant-baseline="central" >48 mm</text>
<line x1="345.0" y1="535.0" x2="345.0" y2="1095.0" stroke="#121a22" stroke-width="0.9" vector-effect="non-scaling-stroke" />
<line x1="325.0" y1="540.0" x2="430.0" y2="490.0" stroke="#121a22" stroke-width="0.9" vector-effect="non-scaling-stroke" />
<line x1="325.0" y1="1110.0" x2="640.0" y2="935.0" stroke="#121a22" stroke-width="0.9" vector-effect="non-scaling-stroke" />
<text x="318.0" y="905.0" transform="translate(318.0 905.0) rotate(-90) skewX(-28) translate(-318.0 -905.0)" font-size="36.73" fill="#0d0d0d" stroke="#0d0d0d" stroke-width="0.3" vector-effect="non-scaling-stroke" text-anchor="middle" dominant-baseline="central" >60 mm</text>
<line x1="70.0" y1="640.0" x2="150.0" y2="690.0" stroke="#121a22" stroke-width="0.9" vector-effect="non-scaling-stroke" />
<line x1="140.0" y1="690.0" x2="905.0" y2="205.0" stroke="#121a22" stroke-width="0.9" vector-effect="non-scaling-stroke" />
<line x1="240.0" y1="760.0" x2="1005.0" y2="585.0" stroke="#121a22" stroke-width="0.9" vector-effect="non-scaling-stroke" />
<polygon points="345.0,545.0 410.0,510.0 410.0,690.0 345.0,720.0" fill="#e6e2ec" stroke="#121a22" stroke-width="0" stroke-linejoin="round" vector-effect="non-scaling-stroke" />
<text x="250.0" y="690.0" transform="translate(250.0 690.0) skewY(-30) translate(-250.0 -690.0)" font-size="36.73" fill="#0d0d0d" stroke="#0d0d0d" stroke-width="0.3" vector-effect="non-scaling-stroke" text-anchor="middle" dominant-baseline="central" >12 mm</text>
<line x1="270.0" y1="760.0" x2="315.0" y2="785.0" stroke="#121a22" stroke-width="0.9" vector-effect="non-scaling-stroke" />
<g transform="translate(369.10,174.20) scale(0.73750)">
<path d="M200,95 Q260,45 320,70 L440,140 L520,215 L600,380 L650,460 L665,690 L580,760 L480,1030 Q430,1145 350,1140 L290,1080 L180,920 L60,760 L50,500 Z" fill="#d9e8f6" stroke="#121a22" stroke-width="1.3" stroke-linejoin="round" vector-effect="non-scaling-stroke" />
<line x1="50.0" y1="505.0" x2="200.0" y2="580.0" stroke="#121a22" stroke-width="1.1" vector-effect="non-scaling-stroke" />
<path d="M600,370 Q690,340 715,430 Q730,540 650,560 L600,540 Z" fill="#dce9f6" stroke="#121a22" stroke-width="1.2" stroke-linejoin="round" vector-effect="non-scaling-stroke" />
<line x1="640.0" y1="370.0" x2="660.0" y2="560.0" stroke="#121a22" stroke-width="1" vector-effect="non-scaling-stroke" />
<polygon points="545.0,430.0 640.0,410.0 665.0,500.0 570.0,520.0" fill="#dce9f6" stroke="#121a22" stroke-width="1.1" stroke-linejoin="round" vector-effect="non-scaling-stroke" />
<path d="M240,560 L230,500 L275,400 L300,290 L380,160 Q420,130 450,150 L510,215 L590,370 L590,470 L545,432 L480,440 L380,480 L300,520 Z" fill="#deebf7" stroke="#121a22" stroke-width="1.2" stroke-linejoin="round" vector-effect="non-scaling-stroke" />
<path d="M420,330 Q440,280 480,270 L530,300 L560,400 L560,440 L470,430 L420,400 Z" fill="#e6effa" stroke="#121a22" stroke-width="1.1" stroke-linejoin="round" vector-effect="non-scaling-stroke" />
<path d="M410,350 Q420,300 450,320 Q470,350 455,370 Z" fill="#e8dde8" stroke="#121a22" stroke-width="0.9" stroke-linejoin="round" vector-effect="non-scaling-stroke" />
<path d="M190,880 L250,860 L330,890 L420,850 L520,720 L560,790 L540,900 L480,1030 Q430,1110 360,1110 L280,1060 Z" fill="#deebf7" stroke="#121a22" stroke-width="1.2" stroke-linejoin="round" vector-effect="non-scaling-stroke" />
<path d="M230,900 L300,905 L320,980 L290,1000 Z" fill="#e6effa" stroke="#121a22" stroke-width="1" stroke-linejoin="round" vector-effect="non-scaling-stroke" />
<path d="M250,560 Q330,450 480,430 Q580,430 600,520 L600,690 Q540,790 420,800 Q310,810 280,700 Z" fill="#e4eef9" stroke="#121a22" stroke-width="1.2" stroke-linejoin="round" vector-effect="non-scaling-stroke" />
<path d="M330,560 Q390,480 510,480 Q560,490 560,560 L560,650 Q500,700 400,720 Q320,730 330,620 Z" fill="#eef5fb" stroke="#121a22" stroke-width="1.1" stroke-linejoin="round" vector-effect="non-scaling-stroke" />
<line x1="350.0" y1="520.0" x2="380.0" y2="480.0" stroke="#121a22" stroke-width="0.9" vector-effect="non-scaling-stroke" />
<line x1="365.0" y1="530.0" x2="395.0" y2="490.0" stroke="#121a22" stroke-width="0.9" vector-effect="non-scaling-stroke" />
<path d="M200,650 L260,590 L350,620 L370,650 L330,700 L310,790 L340,870 L370,860 L360,900 L290,900 L230,870 L190,760 Z" fill="#deebf7" stroke="#121a22" stroke-width="1.2" stroke-linejoin="round" vector-effect="non-scaling-stroke" />
<path d="M40,745 L170,700 Q215,720 210,790 L60,840 Z" fill="#e2edf8" stroke="#121a22" stroke-width="1.2" stroke-linejoin="round" vector-effect="non-scaling-stroke" />
<ellipse cx="40.0" cy="792.0" rx="32.0" ry="45.0" transform="rotate(10 40.0 792.0)" fill="#e9f1f9" stroke="#121a22" stroke-width="1.2" vector-effect="non-scaling-stroke"/>
<line x1="110.0" y1="720.0" x2="120.0" y2="830.0" stroke="#121a22" stroke-width="1" vector-effect="non-scaling-stroke" />
<line x1="140.0" y1="712.0" x2="150.0" y2="820.0" stroke="#121a22" stroke-width="1" vector-effect="non-scaling-stroke" />
<ellipse cx="120.0" cy="655.0" rx="30.0" ry="55.0" transform="rotate(15 120.0 655.0)" fill="none" stroke="#121a22" stroke-width="1.2" vector-effect="non-scaling-stroke"/>
<ellipse cx="120.0" cy="660.0" rx="14.0" ry="30.0" transform="rotate(15 120.0 660.0)" fill="none" stroke="#121a22" stroke-width="1" vector-effect="non-scaling-stroke"/>
<path d="M85,850 L110,950 L130,950 L110,850" fill="#e2edf8" stroke="#121a22" stroke-width="1" stroke-linejoin="round" vector-effect="non-scaling-stroke" />
<path d="M120,840 L155,940 L172,935 L140,840" fill="#e2edf8" stroke="#121a22" stroke-width="1" stroke-linejoin="round" vector-effect="non-scaling-stroke" />
<ellipse cx="390.0" cy="240.0" rx="24.0" ry="34.0" transform="rotate(20 390.0 240.0)" fill="#f4f8fc" stroke="#121a22" stroke-width="1.1" vector-effect="non-scaling-stroke"/>
<line x1="345.0" y1="265.0" x2="435.0" y2="215.0" stroke="#121a22" stroke-width="0.9" vector-effect="non-scaling-stroke" />
<line x1="380.0" y1="295.0" x2="400.0" y2="185.0" stroke="#121a22" stroke-width="0.9" vector-effect="non-scaling-stroke" />
<ellipse cx="320.0" cy="365.0" rx="24.0" ry="34.0" transform="rotate(20 320.0 365.0)" fill="#f4f8fc" stroke="#121a22" stroke-width="1.1" vector-effect="non-scaling-stroke"/>
<line x1="275.0" y1="390.0" x2="365.0" y2="340.0" stroke="#121a22" stroke-width="0.9" vector-effect="non-scaling-stroke" />
<line x1="310.0" y1="420.0" x2="330.0" y2="310.0" stroke="#121a22" stroke-width="0.9" vector-effect="non-scaling-stroke" />
<ellipse cx="460.0" cy="900.0" rx="24.0" ry="34.0" transform="rotate(20 460.0 900.0)" fill="#f4f8fc" stroke="#121a22" stroke-width="1.1" vector-effect="non-scaling-stroke"/>
<line x1="415.0" y1="925.0" x2="505.0" y2="875.0" stroke="#121a22" stroke-width="0.9" vector-effect="non-scaling-stroke" />
<line x1="450.0" y1="955.0" x2="470.0" y2="845.0" stroke="#121a22" stroke-width="0.9" vector-effect="non-scaling-stroke" />
<ellipse cx="390.0" cy="1040.0" rx="24.0" ry="34.0" transform="rotate(20 390.0 1040.0)" fill="#f4f8fc" stroke="#121a22" stroke-width="1.1" vector-effect="non-scaling-stroke"/>
<line x1="345.0" y1="1065.0" x2="435.0" y2="1015.0" stroke="#121a22" stroke-width="0.9" vector-effect="non-scaling-stroke" />
<line x1="380.0" y1="1095.0" x2="400.0" y2="985.0" stroke="#121a22" stroke-width="0.9" vector-effect="non-scaling-stroke" />
</g>
<line x1="500.0" y1="1105.0" x2="590.0" y2="1065.0" stroke="#121a22" stroke-width="0.9" vector-effect="non-scaling-stroke" />
<line x1="590.0" y1="1065.0" x2="650.0" y2="945.0" stroke="#121a22" stroke-width="0.9" vector-effect="non-scaling-stroke" />
<text x="540.0" y="1055.0" transform="translate(540.0 1055.0) skewY(-22) translate(-540.0 -1055.0)" font-size="36.73" fill="#0d0d0d" stroke="#0d0d0d" stroke-width="0.3" vector-effect="non-scaling-stroke" text-anchor="middle" dominant-baseline="central" >M8</text>
</g></svg>
</body></html>
